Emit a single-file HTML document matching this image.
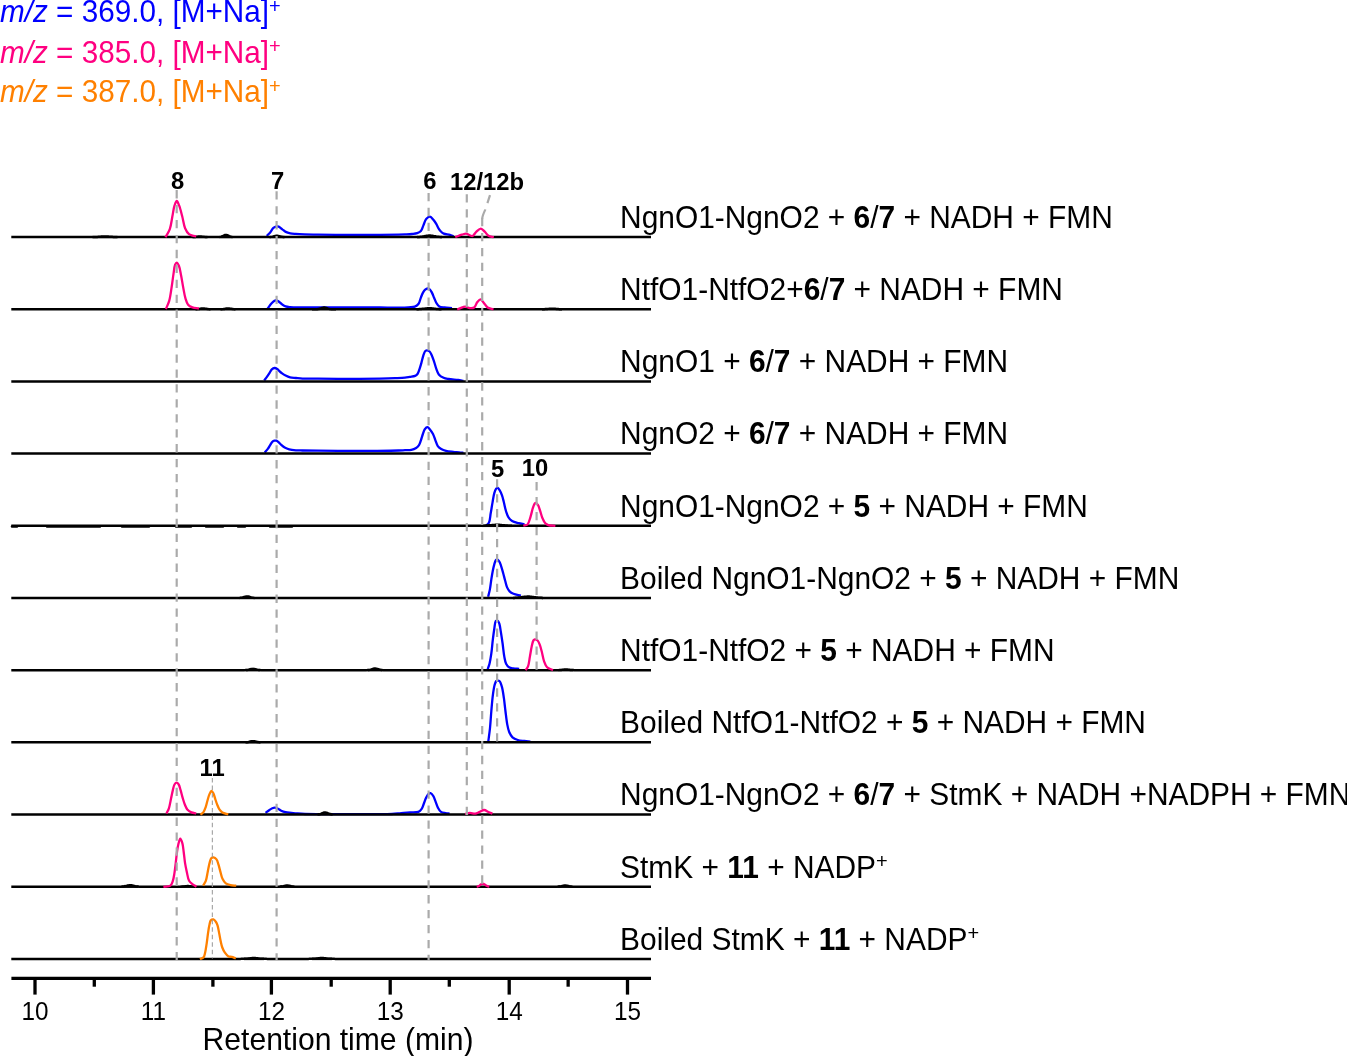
<!DOCTYPE html><html><head><meta charset="utf-8"><style>html,body{margin:0;padding:0;background:#fff;}body{width:1347px;height:1056px;overflow:hidden;}svg{display:block;will-change:transform;}text{font-family:"Liberation Sans",sans-serif;}</style></head><body>
<svg width="1347" height="1056" viewBox="0 0 1347 1056">
<text transform="translate(0 22.2) scale(1 1.040)" font-size="29.7" fill="#0000ff"><tspan font-style="italic">m/z</tspan> = 369.0, [M+Na]<tspan font-size="20" dy="-9.2">+</tspan></text>
<text transform="translate(0 62.5) scale(1 1.040)" font-size="29.7" fill="#ff0080"><tspan font-style="italic">m/z</tspan> = 385.0, [M+Na]<tspan font-size="20" dy="-9.2">+</tspan></text>
<text transform="translate(0 102.4) scale(1 1.040)" font-size="29.7" fill="#ff8000"><tspan font-style="italic">m/z</tspan> = 387.0, [M+Na]<tspan font-size="20" dy="-9.2">+</tspan></text>
<text transform="translate(177.5 188.9) scale(1 1.040)" font-size="23.8" font-weight="bold" text-anchor="middle" fill="#000">8</text>
<text transform="translate(277.5 188.9) scale(1 1.040)" font-size="23.8" font-weight="bold" text-anchor="middle" fill="#000">7</text>
<text transform="translate(429.9 189.4) scale(1 1.040)" font-size="23.8" font-weight="bold" text-anchor="middle" fill="#000">6</text>
<text transform="translate(487 189.7) scale(1 1.040)" font-size="23.8" font-weight="bold" text-anchor="middle" fill="#000">12/12b</text>
<text transform="translate(497.6 477.4) scale(1 1.040)" font-size="23.8" font-weight="bold" text-anchor="middle" fill="#000">5</text>
<text transform="translate(535 475.5) scale(1 1.040)" font-size="23.8" font-weight="bold" text-anchor="middle" fill="#000">10</text>
<text transform="translate(212.1 775.8) scale(1 1.040)" font-size="23.8" font-weight="bold" text-anchor="middle" fill="#000">11</text>
<path d="M265.6 812.9C266.77 812 267.94 811.01 269.1 810.2C270.17 809.45 271.25 808.63 272.3 808.2C273.18 807.84 274.03 807.56 274.9 807.6C275.8 807.64 276.66 808.06 277.6 808.5C278.74 809.03 279.9 810.09 281.2 810.7C282.56 811.34 284.01 811.85 285.6 812.2C287.38 812.59 289.5 812.6 291.4 812.8C293.23 813 294.81 813.22 296.8 813.4C299.25 813.63 301.52 813.87 305 814C311.07 814.23 321.29 814.08 330 814.1C339.54 814.12 349.84 814.12 360 814.1C370.49 814.08 384.56 814.37 392 814C396 813.8 398.17 813.35 401.2 813.1C404.16 812.85 407.1 812.7 410 812.5C412.83 812.3 416.38 812.74 418.4 811.9C419.81 811.31 420.65 810.38 421.5 809.2C422.53 807.78 423.04 805.59 423.8 803.7C424.6 801.7 425.31 799.23 426.2 797.5C426.91 796.12 427.64 794.7 428.5 794C429.12 793.5 429.83 793.06 430.5 793.2C431.39 793.38 432.43 794.75 433.2 795.9C434.17 797.34 434.74 799.51 435.5 801.4C436.3 803.4 436.91 805.78 437.9 807.6C438.78 809.23 439.66 810.99 441 811.9C442.28 812.77 444.2 812.81 445.7 813.1C447.05 813.36 448.3 813.43 449.6 813.6" fill="none" stroke="#0000ff" stroke-width="2.30" stroke-linejoin="round" stroke-linecap="butt"/>
<path d="M266.7 235.9C267.87 234.73 269.11 233.69 270.2 232.4C271.35 231.04 272.2 228.92 273.4 227.9C274.35 227.1 275.53 226.58 276.5 226.4C277.28 226.26 277.92 226.3 278.7 226.6C279.81 227.03 281.11 228.41 282.3 229.3C283.47 230.18 284.5 231.24 285.8 231.9C287.15 232.59 288.72 232.97 290.3 233.3C291.98 233.65 293.6 233.73 295.6 233.9C298.18 234.12 301.23 234.28 304.5 234.4C308.51 234.54 312.74 234.53 317.9 234.6C324.96 234.69 334.48 234.85 343 234.9C351.84 234.95 360.88 234.95 370 234.9C379.37 234.85 392.36 234.73 398.5 234.6C401.43 234.54 402.79 234.5 405 234.4C407.29 234.3 409.84 234.23 412 234C413.87 233.8 415.66 233.74 417.2 233.2C418.59 232.72 419.91 232.19 420.9 231.1C422.09 229.78 422.55 227.36 423.4 225.4C424.31 223.31 424.91 220.4 426.2 218.9C427.21 217.72 428.71 216.48 429.9 216.6C431.19 216.73 432.51 218.82 433.6 220.1C434.67 221.36 435.57 222.81 436.4 224.2C437.2 225.54 437.72 227.05 438.5 228.3C439.23 229.47 439.99 230.6 440.9 231.5C441.76 232.35 442.58 233.07 443.8 233.6C445.4 234.3 448.14 234.25 449.9 234.8C451.31 235.24 452.37 235.87 453.6 236.4" fill="none" stroke="#0000ff" stroke-width="2.30" stroke-linejoin="round" stroke-linecap="butt"/>
<path d="M267.6 308.6C268.87 306.9 270.12 304.88 271.4 303.5C272.43 302.39 273.56 301.37 274.5 300.8C275.14 300.41 275.66 300.04 276.3 300.1C277.1 300.17 278.01 301.06 278.9 301.7C279.94 302.45 280.97 303.61 282.1 304.4C283.21 305.17 284.31 305.95 285.6 306.4C286.97 306.88 288.22 306.94 290.1 307.1C293.2 307.36 298.14 307.26 302.5 307.3C307.38 307.34 311.91 307.29 318 307.3C326.75 307.31 339.51 307.37 350 307.4C360.16 307.43 371.01 307.46 380 307.5C387.34 307.53 393.84 307.77 400 307.6C405.31 307.45 411.59 307.89 414.8 306.7C416.62 306.02 417.63 305.12 418.6 303.8C419.73 302.27 420.04 299.72 420.8 297.8C421.51 296 422.17 294.04 423 292.6C423.67 291.44 424.37 290.4 425.2 289.7C425.9 289.11 426.73 288.55 427.5 288.5C428.23 288.45 429.04 288.78 429.7 289.3C430.56 289.97 431.22 291.34 431.9 292.6C432.71 294.1 433.35 296.07 434.1 297.8C434.85 299.54 435.46 301.51 436.4 303C437.23 304.32 438.04 305.65 439.3 306.4C440.68 307.22 442.6 307.21 444.5 307.5C446.76 307.84 449.5 307.97 452 308.2" fill="none" stroke="#0000ff" stroke-width="2.30" stroke-linejoin="round" stroke-linecap="butt"/>
<path d="M264.2 380.5C265.1 379.3 266.02 378.14 266.9 376.9C267.82 375.61 268.76 374.2 269.6 372.9C270.38 371.7 270.9 370.23 271.8 369.4C272.57 368.69 273.58 368.07 274.5 368C275.39 367.93 276.4 368.4 277.2 368.9C278.04 369.42 278.61 370.37 279.4 371.1C280.24 371.88 281.11 372.68 282.1 373.4C283.17 374.18 284.33 374.95 285.6 375.6C286.98 376.3 288.47 377 290.1 377.4C291.88 377.84 293.9 377.81 295.9 378C298.03 378.21 299.83 378.47 302.5 378.6C306.58 378.8 311.91 378.66 318 378.7C326.75 378.76 339.51 378.92 350 378.9C360.16 378.88 371.72 378.75 380 378.6C385.86 378.49 390.51 378.37 395 378.2C398.67 378.06 402.28 377.99 405 377.7C406.9 377.5 408.16 377.19 409.8 376.9C411.52 376.59 413.74 376.52 415.1 375.9C416.13 375.43 416.83 374.9 417.5 374C418.39 372.82 418.88 370.84 419.5 369.1C420.19 367.17 420.79 365.06 421.4 362.9C422.06 360.57 422.57 357.73 423.3 355.6C423.9 353.86 424.43 351.82 425.3 351C425.85 350.48 426.54 350.26 427.2 350.3C427.96 350.34 428.92 350.87 429.6 351.5C430.4 352.24 430.88 353.41 431.5 354.7C432.36 356.49 433.21 359.08 434 361.4C434.84 363.87 435.52 366.8 436.4 369.1C437.14 371.06 437.61 372.95 438.8 374.4C440 375.86 441.92 377.03 443.6 377.8C445.14 378.51 446.51 378.67 448.4 379C451.06 379.47 455.34 379.65 458.1 380C460.17 380.26 461.7 380.53 463.5 380.8" fill="none" stroke="#0000ff" stroke-width="2.30" stroke-linejoin="round" stroke-linecap="butt"/>
<path d="M264.7 452.5C265.73 451.3 266.89 450.13 267.8 448.9C268.64 447.76 269.26 446.57 270 445.4C270.76 444.21 271.42 442.59 272.3 441.8C272.97 441.2 273.78 440.87 274.5 440.7C275.11 440.56 275.7 440.51 276.3 440.7C277.03 440.93 277.76 441.59 278.5 442.2C279.39 442.94 280.21 444.03 281.2 444.9C282.26 445.84 283.4 446.86 284.7 447.6C286.06 448.38 287.52 448.96 289.2 449.4C291.18 449.92 293.67 450.12 295.9 450.3C298.1 450.48 299.84 450.44 302.5 450.5C306.58 450.59 312.12 450.64 318 450.7C325.76 450.78 335.76 450.88 345 450.9C354.74 450.92 365.61 450.88 375 450.8C383.31 450.73 393.1 450.66 398.5 450.5C401.34 450.42 402.85 450.3 405 450.2C407.12 450.1 409.37 450.32 411.3 449.9C413.04 449.52 414.77 448.87 416.1 448C417.28 447.22 418.22 446.28 419 445.1C419.87 443.77 420.29 442.02 420.9 440.3C421.59 438.35 422.21 435.95 422.9 434C423.51 432.28 423.91 430.38 424.8 429.2C425.51 428.26 426.54 427.16 427.4 427.2C428.31 427.24 429.24 428.7 430.1 429.7C431.12 430.89 432.16 432.38 433 434C433.96 435.85 434.59 438.25 435.4 440.3C436.19 442.28 436.71 444.59 437.8 446.1C438.72 447.37 439.9 448.22 441.2 449C442.6 449.84 444.2 450.43 446 450.9C448.15 451.46 451 451.64 453.3 451.9C455.34 452.13 457.3 452.22 459.1 452.4C460.67 452.56 462.03 452.73 463.5 452.9" fill="none" stroke="#0000ff" stroke-width="2.30" stroke-linejoin="round" stroke-linecap="butt"/>
<path d="M485.9 525.7C486.9 524.73 488.14 524.21 488.9 522.8C490.06 520.66 490.12 516.56 490.7 513.3C491.32 509.84 491.88 506.06 492.5 502.6C493.08 499.34 493.56 495.6 494.3 493.1C494.8 491.39 495.31 489.82 496 488.9C496.45 488.3 496.98 487.65 497.5 487.7C498.17 487.76 498.95 489.08 499.6 490.1C500.48 491.47 501.32 493.51 502 495.4C502.74 497.45 503.18 499.6 503.8 502C504.54 504.87 505.21 508.74 506.1 511.5C506.82 513.73 507.41 515.76 508.5 517.4C509.47 518.86 510.59 520.08 512.1 521C513.85 522.07 516.47 522.54 518.6 523.1C520.6 523.62 522.53 523.9 524.5 524.3" fill="none" stroke="#0000ff" stroke-width="2.30" stroke-linejoin="round" stroke-linecap="butt"/>
<path d="M488.1 596.8C488.7 594.33 489.39 592.05 489.9 589.4C490.48 586.38 490.8 582.78 491.3 579.6C491.77 576.56 492.25 573.41 492.8 570.7C493.27 568.38 493.73 566.17 494.3 564.3C494.76 562.79 495.15 561.11 495.8 560.3C496.21 559.8 496.71 559.35 497.2 559.4C497.83 559.46 498.61 560.43 499.2 561.3C500.02 562.51 500.57 564.48 501.2 566.3C501.92 568.4 502.56 570.86 503.2 573.2C503.86 575.59 504.44 578.11 505.1 580.5C505.74 582.84 506.23 585.46 507.1 587.4C507.8 588.97 508.52 590.33 509.6 591.4C510.66 592.45 511.93 593.15 513.5 593.8C515.52 594.64 518.43 595 520.9 595.6" fill="none" stroke="#0000ff" stroke-width="2.30" stroke-linejoin="round" stroke-linecap="butt"/>
<path d="M487.7 669.2C488.3 667.37 488.96 665.83 489.5 663.7C490.21 660.86 490.78 657.23 491.3 653.6C491.9 649.39 492.27 644.23 492.8 639.9C493.28 635.98 493.76 632.04 494.3 628.7C494.74 625.97 494.88 622.42 495.7 621.3C496.06 620.8 496.57 620.61 497 620.6C497.41 620.59 497.85 620.84 498.2 621.2C498.71 621.73 499.04 622.67 499.4 623.8C499.99 625.68 500.32 628.72 500.8 631.6C501.39 635.15 502.03 639.43 502.6 643.5C503.2 647.76 503.6 652.91 504.3 656.6C504.82 659.34 505.14 661.81 506.1 663.7C506.87 665.21 507.87 666.52 509.1 667.3C510.29 668.05 511.77 668.15 513.3 668.4C515.09 668.69 517.23 668.67 519.2 668.8" fill="none" stroke="#0000ff" stroke-width="2.30" stroke-linejoin="round" stroke-linecap="butt"/>
<path d="M488.3 741.5C488.87 737 489.52 732.73 490 728C490.53 722.78 490.82 717.01 491.3 711.5C491.78 705.97 492.26 699.71 492.9 694.9C493.4 691.17 493.86 687.53 494.6 685C495.09 683.33 495.53 681.65 496.3 681C496.79 680.59 497.45 680.55 498 680.6C498.55 680.65 499.11 680.8 499.6 681.3C500.51 682.23 501.25 684.67 501.9 686.9C502.79 689.97 503.32 694.27 503.9 698.2C504.53 702.44 504.94 707.13 505.5 711.5C506.04 715.76 506.49 720.41 507.2 724.1C507.77 727.06 508.22 729.69 509.2 732C510.06 734.02 511.04 735.96 512.5 737.3C513.92 738.61 515.88 739.38 517.8 740C519.83 740.65 522.25 740.73 524.4 741C526.44 741.26 528.4 741.4 530.4 741.6" fill="none" stroke="#0000ff" stroke-width="2.30" stroke-linejoin="round" stroke-linecap="butt"/>
<path d="M11.3 237.08 L12.3 237.08 L13.3 237.08 L14.3 237.08 L15.3 237.08 L16.3 237.08 L17.3 237.08 L18.3 237.08 L19.3 237.08 L20.3 237.08 L21.3 237.08 L22.3 237.08 L23.3 237.08 L24.3 237.08 L25.3 237.08 L26.3 237.08 L27.3 237.08 L28.3 237.08 L29.3 237.08 L30.3 237.08 L31.3 237.08 L32.3 237.08 L33.3 237.08 L34.3 237.08 L35.3 237.08 L36.3 237.08 L37.3 237.08 L38.3 237.08 L39.3 237.08 L40.3 237.08 L41.3 237.08 L42.3 237.08 L43.3 237.08 L44.3 237.08 L45.3 237.08 L46.3 237.08 L47.3 237.08 L48.3 237.08 L49.3 237.08 L50.3 237.08 L51.3 237.08 L52.3 237.08 L53.3 237.08 L54.3 237.08 L55.3 237.08 L56.3 237.08 L57.3 237.08 L58.3 237.08 L59.3 237.08 L60.3 237.08 L61.3 237.08 L62.3 237.08 L63.3 237.08 L64.3 237.08 L65.3 237.08 L66.3 237.08 L67.3 237.08 L68.3 237.08 L69.3 237.08 L70.3 237.08 L71.3 237.08 L72.3 237.08 L73.3 237.08 L74.3 237.08 L75.3 237.08 L76.3 237.08 L77.3 237.08 L78.3 237.08 L79.3 237.08 L80.3 237.08 L81.3 237.08 L82.3 237.08 L83.3 237.08 L84.3 237.08 L85.3 237.08 L86.3 237.08 L87.3 237.08 L88.3 237.08 L89.3 237.08 L90.3 237.07 L91.3 237.07 L92.3 237.06 L93.3 237.04 L94.3 237.02 L95.3 236.99 L96.3 236.95 L97.3 236.9 L98.3 236.84 L99.3 236.77 L100.3 236.69 L101.3 236.62 L102.3 236.56 L103.3 236.51 L104.3 236.49 L105.3 236.48 L106.3 236.5 L107.3 236.54 L108.3 236.6 L109.3 236.67 L110.3 236.74 L111.3 236.81 L112.3 236.87 L113.3 236.93 L114.3 236.97 L115.3 237.01 L116.3 237.03 L117.3 237.05 L118.3 237.06 L119.3 237.07 L120.3 237.07 L121.3 237.08 L122.3 237.08 L123.3 237.08 L124.3 237.08 L125.3 237.08 L126.3 237.08 L127.3 237.08 L128.3 237.08 L129.3 237.08 L130.3 237.08 L131.3 237.08 L132.3 237.08 L133.3 237.08 L134.3 237.08 L135.3 237.08 L136.3 237.08 L137.3 237.08 L138.3 237.08 L139.3 237.08 L140.3 237.08 L141.3 237.08 L142.3 237.08 L143.3 237.08 L144.3 237.08 L145.3 237.08 L146.3 237.08 L147.3 237.08 L148.3 237.08 L149.3 237.08 L150.3 237.08 L151.3 237.08 L152.3 237.08 L153.3 237.08 L154.3 237.08 L155.3 237.08 L156.3 237.08 L157.3 237.08 L158.3 237.08 L159.3 237.08 L160.3 237.08 L161.3 237.08 L162.3 237.08 L163.3 237.08 L164.3 237.08 L165.3 237.08 L166.3 237.08 L167.3 237.08 L168.3 237.08 L169.3 237.08 L170.3 237.08 L171.3 237.08 L172.3 237.08 L173.3 237.08 L174.3 237.08 L175.3 237.08 L176.3 237.08 L177.3 237.08 L178.3 237.08 L179.3 237.08 L180.3 237.08 L181.3 237.08 L182.3 237.08 L183.3 237.08 L184.3 237.08 L185.3 237.08 L186.3 237.08 L187.3 237.08 L188.3 237.08 L189.3 237.08 L190.3 237.08 L191.3 237.07 L192.3 237.06 L193.3 237.03 L194.3 236.98 L195.3 236.9 L196.3 236.8 L197.3 236.68 L198.3 236.57 L199.3 236.5 L200.3 236.48 L201.3 236.53 L202.3 236.63 L203.3 236.75 L204.3 236.87 L205.3 236.95 L206.3 237.01 L207.3 237.05 L208.3 237.07 L209.3 237.08 L210.3 237.08 L211.3 237.08 L212.3 237.08 L213.3 237.08 L214.3 237.08 L215.3 237.08 L216.3 237.08 L217.3 237.07 L218.3 237.05 L219.3 237 L220.3 236.88 L221.3 236.65 L222.3 236.28 L223.3 235.8 L224.3 235.3 L225.3 234.96 L226.3 234.89 L227.3 235.14 L228.3 235.59 L229.3 236.1 L230.3 236.52 L231.3 236.8 L232.3 236.96 L233.3 237.04 L234.3 237.07 L235.3 237.08 L236.3 237.08 L237.3 237.08 L238.3 237.08 L239.3 237.08 L240.3 237.08 L241.3 237.08 L242.3 237.08 L243.3 237.08 L244.3 237.08 L245.3 237.08 L246.3 237.08 L247.3 237.08 L248.3 237.08 L249.3 237.08 L250.3 237.08 L251.3 237.08 L252.3 237.08 L253.3 237.08 L254.3 237.08 L255.3 237.08 L256.3 237.08 L257.3 237.08 L258.3 237.08 L259.3 237.08 L260.3 237.08 L261.3 237.08 L262.3 237.08 L263.3 237.08 L264.3 237.08 L265.3 237.08 L266.3 237.08 L267.3 237.07 L268.3 237.06 L269.3 237.03 L270.3 236.97 L271.3 236.87 L272.3 236.7 L273.3 236.47 L274.3 236.21 L275.3 235.97 L276.3 235.81 L277.3 235.79 L278.3 235.9 L279.3 236.11 L280.3 236.37 L281.3 236.61 L282.3 236.81 L283.3 236.94 L284.3 237.01 L285.3 237.05 L286.3 237.07 L287.3 237.08 L288.3 237.08 L289.3 237.08 L290.3 237.08 L291.3 237.08 L292.3 237.08 L293.3 237.08 L294.3 237.08 L295.3 237.08 L296.3 237.08 L297.3 237.08 L298.3 237.08 L299.3 237.08 L300.3 237.08 L301.3 237.08 L302.3 237.08 L303.3 237.08 L304.3 237.08 L305.3 237.08 L306.3 237.08 L307.3 237.08 L308.3 237.08 L309.3 237.08 L310.3 237.08 L311.3 237.08 L312.3 237.08 L313.3 237.08 L314.3 237.08 L315.3 237.08 L316.3 237.08 L317.3 237.08 L318.3 237.08 L319.3 237.08 L320.3 237.08 L321.3 237.08 L322.3 237.08 L323.3 237.08 L324.3 237.08 L325.3 237.08 L326.3 237.08 L327.3 237.08 L328.3 237.08 L329.3 237.08 L330.3 237.08 L331.3 237.08 L332.3 237.08 L333.3 237.08 L334.3 237.08 L335.3 237.08 L336.3 237.08 L337.3 237.08 L338.3 237.08 L339.3 237.08 L340.3 237.08 L341.3 237.08 L342.3 237.08 L343.3 237.08 L344.3 237.08 L345.3 237.08 L346.3 237.08 L347.3 237.08 L348.3 237.08 L349.3 237.08 L350.3 237.08 L351.3 237.08 L352.3 237.08 L353.3 237.08 L354.3 237.08 L355.3 237.08 L356.3 237.08 L357.3 237.08 L358.3 237.08 L359.3 237.08 L360.3 237.08 L361.3 237.08 L362.3 237.08 L363.3 237.08 L364.3 237.08 L365.3 237.08 L366.3 237.08 L367.3 237.08 L368.3 237.08 L369.3 237.08 L370.3 237.08 L371.3 237.08 L372.3 237.08 L373.3 237.08 L374.3 237.08 L375.3 237.08 L376.3 237.08 L377.3 237.08 L378.3 237.08 L379.3 237.08 L380.3 237.08 L381.3 237.08 L382.3 237.08 L383.3 237.08 L384.3 237.08 L385.3 237.08 L386.3 237.08 L387.3 237.08 L388.3 237.08 L389.3 237.08 L390.3 237.08 L391.3 237.08 L392.3 237.08 L393.3 237.08 L394.3 237.08 L395.3 237.08 L396.3 237.08 L397.3 237.08 L398.3 237.08 L399.3 237.08 L400.3 237.08 L401.3 237.08 L402.3 237.08 L403.3 237.08 L404.3 237.08 L405.3 237.08 L406.3 237.08 L407.3 237.08 L408.3 237.08 L409.3 237.08 L410.3 237.08 L411.3 237.08 L412.3 237.08 L413.3 237.07 L414.3 237.07 L415.3 237.05 L416.3 237.03 L417.3 237 L418.3 236.96 L419.3 236.89 L420.3 236.8 L421.3 236.69 L422.3 236.55 L423.3 236.38 L424.3 236.21 L425.3 236.03 L426.3 235.86 L427.3 235.72 L428.3 235.62 L429.3 235.58 L430.3 235.6 L431.3 235.67 L432.3 235.8 L433.3 235.96 L434.3 236.13 L435.3 236.31 L436.3 236.49 L437.3 236.64 L438.3 236.76 L439.3 236.86 L440.3 236.93 L441.3 236.99 L442.3 237.02 L443.3 237.05 L444.3 237.06 L445.3 237.07 L446.3 237.07 L447.3 237.08 L448.3 237.08 L449.3 237.08 L450.3 237.08 L451.3 237.08 L452.3 237.08 L453.3 237.08 L454.3 237.08 L455.3 237.08 L456.3 237.08 L457.3 237.08 L458.3 237.08 L459.3 237.08 L460.3 237.08 L461.3 237.08 L462.3 237.08 L463.3 237.08 L464.3 237.08 L465.3 237.08 L466.3 237.08 L467.3 237.08 L468.3 237.08 L469.3 237.08 L470.3 237.08 L471.3 237.08 L472.3 237.08 L473.3 237.08 L474.3 237.08 L475.3 237.08 L476.3 237.08 L477.3 237.08 L478.3 237.08 L479.3 237.08 L480.3 237.08 L481.3 237.08 L482.3 237.08 L483.3 237.08 L484.3 237.08 L485.3 237.08 L486.3 237.08 L487.3 237.08 L488.3 237.08 L489.3 237.08 L490.3 237.08 L491.3 237.08 L492.3 237.08 L493.3 237.08 L494.3 237.08 L495.3 237.08 L496.3 237.08 L497.3 237.08 L498.3 237.08 L499.3 237.08 L500.3 237.08 L501.3 237.08 L502.3 237.08 L503.3 237.08 L504.3 237.08 L505.3 237.08 L506.3 237.08 L507.3 237.08 L508.3 237.08 L509.3 237.08 L510.3 237.08 L511.3 237.08 L512.3 237.08 L513.3 237.08 L514.3 237.08 L515.3 237.08 L516.3 237.08 L517.3 237.08 L518.3 237.08 L519.3 237.08 L520.3 237.08 L521.3 237.08 L522.3 237.08 L523.3 237.08 L524.3 237.08 L525.3 237.08 L526.3 237.08 L527.3 237.08 L528.3 237.08 L529.3 237.08 L530.3 237.08 L531.3 237.08 L532.3 237.08 L533.3 237.08 L534.3 237.08 L535.3 237.08 L536.3 237.08 L537.3 237.08 L538.3 237.08 L539.3 237.08 L540.3 237.08 L541.3 237.08 L542.3 237.08 L543.3 237.08 L544.3 237.08 L545.3 237.08 L546.3 237.08 L547.3 237.08 L548.3 237.08 L549.3 237.08 L550.3 237.08 L551.3 237.08 L552.3 237.08 L553.3 237.08 L554.3 237.08 L555.3 237.08 L556.3 237.08 L557.3 237.08 L558.3 237.08 L559.3 237.08 L560.3 237.08 L561.3 237.08 L562.3 237.08 L563.3 237.08 L564.3 237.08 L565.3 237.08 L566.3 237.08 L567.3 237.08 L568.3 237.08 L569.3 237.08 L570.3 237.08 L571.3 237.08 L572.3 237.08 L573.3 237.08 L574.3 237.08 L575.3 237.08 L576.3 237.08 L577.3 237.08 L578.3 237.08 L579.3 237.08 L580.3 237.08 L581.3 237.08 L582.3 237.08 L583.3 237.08 L584.3 237.08 L585.3 237.08 L586.3 237.08 L587.3 237.08 L588.3 237.08 L589.3 237.08 L590.3 237.08 L591.3 237.08 L592.3 237.08 L593.3 237.08 L594.3 237.08 L595.3 237.08 L596.3 237.08 L597.3 237.08 L598.3 237.08 L599.3 237.08 L600.3 237.08 L601.3 237.08 L602.3 237.08 L603.3 237.08 L604.3 237.08 L605.3 237.08 L606.3 237.08 L607.3 237.08 L608.3 237.08 L609.3 237.08 L610.3 237.08 L611.3 237.08 L612.3 237.08 L613.3 237.08 L614.3 237.08 L615.3 237.08 L616.3 237.08 L617.3 237.08 L618.3 237.08 L619.3 237.08 L620.3 237.08 L621.3 237.08 L622.3 237.08 L623.3 237.08 L624.3 237.08 L625.3 237.08 L626.3 237.08 L627.3 237.08 L628.3 237.08 L629.3 237.08 L630.3 237.08 L631.3 237.08 L632.3 237.08 L633.3 237.08 L634.3 237.08 L635.3 237.08 L636.3 237.08 L637.3 237.08 L638.3 237.08 L639.3 237.08 L640.3 237.08 L641.3 237.08 L642.3 237.08 L643.3 237.08 L644.3 237.08 L645.3 237.08 L646.3 237.08 L647.3 237.08 L648.3 237.08 L649.3 237.08 L650.3 237.08 L651 237.08" fill="none" stroke="#000" stroke-width="2.50" stroke-linejoin="round"/>
<line x1="92.5" y1="237.08" x2="117.5" y2="237.08" stroke="#000" stroke-width="2.50"/>
<line x1="219.5" y1="237.08" x2="232.5" y2="237.08" stroke="#000" stroke-width="2.50"/>
<line x1="269.5" y1="237.08" x2="284.5" y2="237.08" stroke="#000" stroke-width="2.50"/>
<line x1="417" y1="237.08" x2="442" y2="237.08" stroke="#000" stroke-width="2.50"/>
<line x1="192.5" y1="237.08" x2="207.5" y2="237.08" stroke="#000" stroke-width="2.50"/>
<path d="M11.3 309.26 L12.3 309.26 L13.3 309.26 L14.3 309.26 L15.3 309.26 L16.3 309.26 L17.3 309.26 L18.3 309.26 L19.3 309.26 L20.3 309.26 L21.3 309.26 L22.3 309.26 L23.3 309.26 L24.3 309.26 L25.3 309.26 L26.3 309.26 L27.3 309.26 L28.3 309.26 L29.3 309.26 L30.3 309.26 L31.3 309.26 L32.3 309.26 L33.3 309.26 L34.3 309.26 L35.3 309.26 L36.3 309.26 L37.3 309.26 L38.3 309.26 L39.3 309.26 L40.3 309.26 L41.3 309.26 L42.3 309.26 L43.3 309.26 L44.3 309.26 L45.3 309.26 L46.3 309.26 L47.3 309.26 L48.3 309.26 L49.3 309.26 L50.3 309.26 L51.3 309.26 L52.3 309.26 L53.3 309.26 L54.3 309.26 L55.3 309.26 L56.3 309.26 L57.3 309.26 L58.3 309.26 L59.3 309.26 L60.3 309.26 L61.3 309.26 L62.3 309.26 L63.3 309.26 L64.3 309.26 L65.3 309.26 L66.3 309.26 L67.3 309.26 L68.3 309.26 L69.3 309.26 L70.3 309.26 L71.3 309.26 L72.3 309.26 L73.3 309.26 L74.3 309.26 L75.3 309.26 L76.3 309.26 L77.3 309.26 L78.3 309.26 L79.3 309.26 L80.3 309.26 L81.3 309.26 L82.3 309.26 L83.3 309.26 L84.3 309.26 L85.3 309.26 L86.3 309.26 L87.3 309.26 L88.3 309.26 L89.3 309.26 L90.3 309.26 L91.3 309.26 L92.3 309.26 L93.3 309.26 L94.3 309.26 L95.3 309.26 L96.3 309.26 L97.3 309.26 L98.3 309.26 L99.3 309.26 L100.3 309.26 L101.3 309.26 L102.3 309.26 L103.3 309.26 L104.3 309.26 L105.3 309.26 L106.3 309.26 L107.3 309.26 L108.3 309.26 L109.3 309.26 L110.3 309.26 L111.3 309.26 L112.3 309.26 L113.3 309.26 L114.3 309.26 L115.3 309.26 L116.3 309.26 L117.3 309.26 L118.3 309.26 L119.3 309.26 L120.3 309.26 L121.3 309.26 L122.3 309.26 L123.3 309.26 L124.3 309.26 L125.3 309.26 L126.3 309.26 L127.3 309.26 L128.3 309.26 L129.3 309.26 L130.3 309.26 L131.3 309.26 L132.3 309.26 L133.3 309.26 L134.3 309.26 L135.3 309.26 L136.3 309.26 L137.3 309.26 L138.3 309.26 L139.3 309.26 L140.3 309.26 L141.3 309.26 L142.3 309.26 L143.3 309.26 L144.3 309.26 L145.3 309.26 L146.3 309.26 L147.3 309.26 L148.3 309.26 L149.3 309.26 L150.3 309.26 L151.3 309.26 L152.3 309.26 L153.3 309.26 L154.3 309.26 L155.3 309.26 L156.3 309.26 L157.3 309.26 L158.3 309.26 L159.3 309.26 L160.3 309.26 L161.3 309.26 L162.3 309.26 L163.3 309.26 L164.3 309.26 L165.3 309.26 L166.3 309.26 L167.3 309.26 L168.3 309.26 L169.3 309.26 L170.3 309.26 L171.3 309.26 L172.3 309.26 L173.3 309.26 L174.3 309.26 L175.3 309.26 L176.3 309.26 L177.3 309.26 L178.3 309.26 L179.3 309.26 L180.3 309.26 L181.3 309.26 L182.3 309.26 L183.3 309.26 L184.3 309.26 L185.3 309.26 L186.3 309.26 L187.3 309.26 L188.3 309.26 L189.3 309.26 L190.3 309.26 L191.3 309.26 L192.3 309.26 L193.3 309.26 L194.3 309.25 L195.3 309.23 L196.3 309.19 L197.3 309.13 L198.3 309.03 L199.3 308.89 L200.3 308.73 L201.3 308.58 L202.3 308.48 L203.3 308.46 L204.3 308.53 L205.3 308.66 L206.3 308.82 L207.3 308.97 L208.3 309.09 L209.3 309.17 L210.3 309.22 L211.3 309.24 L212.3 309.25 L213.3 309.26 L214.3 309.26 L215.3 309.26 L216.3 309.26 L217.3 309.26 L218.3 309.26 L219.3 309.25 L220.3 309.23 L221.3 309.19 L222.3 309.13 L223.3 309.03 L224.3 308.89 L225.3 308.73 L226.3 308.58 L227.3 308.48 L228.3 308.46 L229.3 308.53 L230.3 308.66 L231.3 308.82 L232.3 308.97 L233.3 309.09 L234.3 309.17 L235.3 309.22 L236.3 309.24 L237.3 309.25 L238.3 309.26 L239.3 309.26 L240.3 309.26 L241.3 309.26 L242.3 309.26 L243.3 309.26 L244.3 309.26 L245.3 309.26 L246.3 309.26 L247.3 309.26 L248.3 309.26 L249.3 309.26 L250.3 309.26 L251.3 309.26 L252.3 309.26 L253.3 309.26 L254.3 309.26 L255.3 309.26 L256.3 309.26 L257.3 309.26 L258.3 309.26 L259.3 309.26 L260.3 309.26 L261.3 309.26 L262.3 309.26 L263.3 309.26 L264.3 309.26 L265.3 309.26 L266.3 309.26 L267.3 309.26 L268.3 309.26 L269.3 309.26 L270.3 309.26 L271.3 309.26 L272.3 309.26 L273.3 309.26 L274.3 309.26 L275.3 309.26 L276.3 309.26 L277.3 309.26 L278.3 309.26 L279.3 309.26 L280.3 309.26 L281.3 309.26 L282.3 309.26 L283.3 309.26 L284.3 309.26 L285.3 309.26 L286.3 309.26 L287.3 309.26 L288.3 309.26 L289.3 309.26 L290.3 309.26 L291.3 309.26 L292.3 309.26 L293.3 309.26 L294.3 309.26 L295.3 309.26 L296.3 309.26 L297.3 309.26 L298.3 309.26 L299.3 309.26 L300.3 309.26 L301.3 309.26 L302.3 309.26 L303.3 309.26 L304.3 309.26 L305.3 309.26 L306.3 309.26 L307.3 309.26 L308.3 309.26 L309.3 309.26 L310.3 309.26 L311.3 309.26 L312.3 309.26 L313.3 309.26 L314.3 309.26 L315.3 309.26 L316.3 309.26 L317.3 309.26 L318.3 309.26 L319.3 309.26 L320.3 309.26 L321.3 309.26 L322.3 309.26 L323.3 309.26 L324.3 309.26 L325.3 309.26 L326.3 309.26 L327.3 309.26 L328.3 309.26 L329.3 309.26 L330.3 309.26 L331.3 309.26 L332.3 309.26 L333.3 309.26 L334.3 309.26 L335.3 309.26 L336.3 309.26 L337.3 309.26 L338.3 309.26 L339.3 309.26 L340.3 309.26 L341.3 309.26 L342.3 309.26 L343.3 309.26 L344.3 309.26 L345.3 309.26 L346.3 309.26 L347.3 309.26 L348.3 309.26 L349.3 309.26 L350.3 309.26 L351.3 309.26 L352.3 309.26 L353.3 309.26 L354.3 309.26 L355.3 309.26 L356.3 309.26 L357.3 309.26 L358.3 309.26 L359.3 309.26 L360.3 309.26 L361.3 309.26 L362.3 309.26 L363.3 309.26 L364.3 309.26 L365.3 309.26 L366.3 309.26 L367.3 309.26 L368.3 309.26 L369.3 309.26 L370.3 309.26 L371.3 309.26 L372.3 309.26 L373.3 309.26 L374.3 309.26 L375.3 309.26 L376.3 309.26 L377.3 309.26 L378.3 309.26 L379.3 309.26 L380.3 309.26 L381.3 309.26 L382.3 309.26 L383.3 309.26 L384.3 309.26 L385.3 309.26 L386.3 309.26 L387.3 309.26 L388.3 309.26 L389.3 309.26 L390.3 309.26 L391.3 309.26 L392.3 309.26 L393.3 309.26 L394.3 309.26 L395.3 309.26 L396.3 309.26 L397.3 309.26 L398.3 309.26 L399.3 309.26 L400.3 309.26 L401.3 309.26 L402.3 309.26 L403.3 309.26 L404.3 309.26 L405.3 309.26 L406.3 309.26 L407.3 309.26 L408.3 309.26 L409.3 309.26 L410.3 309.26 L411.3 309.26 L412.3 309.26 L413.3 309.25 L414.3 309.25 L415.3 309.24 L416.3 309.22 L417.3 309.2 L418.3 309.16 L419.3 309.11 L420.3 309.04 L421.3 308.95 L422.3 308.85 L423.3 308.74 L424.3 308.62 L425.3 308.5 L426.3 308.4 L427.3 308.32 L428.3 308.27 L429.3 308.26 L430.3 308.29 L431.3 308.36 L432.3 308.46 L433.3 308.57 L434.3 308.69 L435.3 308.81 L436.3 308.92 L437.3 309.01 L438.3 309.08 L439.3 309.14 L440.3 309.18 L441.3 309.21 L442.3 309.23 L443.3 309.24 L444.3 309.25 L445.3 309.26 L446.3 309.26 L447.3 309.26 L448.3 309.26 L449.3 309.26 L450.3 309.26 L451.3 309.26 L452.3 309.26 L453.3 309.26 L454.3 309.26 L455.3 309.26 L456.3 309.26 L457.3 309.26 L458.3 309.26 L459.3 309.26 L460.3 309.26 L461.3 309.26 L462.3 309.26 L463.3 309.26 L464.3 309.26 L465.3 309.26 L466.3 309.26 L467.3 309.26 L468.3 309.26 L469.3 309.26 L470.3 309.26 L471.3 309.26 L472.3 309.26 L473.3 309.26 L474.3 309.26 L475.3 309.26 L476.3 309.26 L477.3 309.26 L478.3 309.26 L479.3 309.26 L480.3 309.26 L481.3 309.26 L482.3 309.26 L483.3 309.26 L484.3 309.26 L485.3 309.26 L486.3 309.26 L487.3 309.26 L488.3 309.26 L489.3 309.26 L490.3 309.26 L491.3 309.26 L492.3 309.26 L493.3 309.26 L494.3 309.26 L495.3 309.26 L496.3 309.26 L497.3 309.26 L498.3 309.26 L499.3 309.26 L500.3 309.26 L501.3 309.26 L502.3 309.26 L503.3 309.26 L504.3 309.26 L505.3 309.26 L506.3 309.26 L507.3 309.26 L508.3 309.26 L509.3 309.26 L510.3 309.26 L511.3 309.26 L512.3 309.26 L513.3 309.26 L514.3 309.26 L515.3 309.26 L516.3 309.26 L517.3 309.26 L518.3 309.26 L519.3 309.26 L520.3 309.26 L521.3 309.26 L522.3 309.26 L523.3 309.26 L524.3 309.26 L525.3 309.26 L526.3 309.26 L527.3 309.26 L528.3 309.26 L529.3 309.26 L530.3 309.26 L531.3 309.26 L532.3 309.26 L533.3 309.26 L534.3 309.26 L535.3 309.26 L536.3 309.26 L537.3 309.26 L538.3 309.26 L539.3 309.26 L540.3 309.25 L541.3 309.24 L542.3 309.23 L543.3 309.2 L544.3 309.17 L545.3 309.11 L546.3 309.04 L547.3 308.96 L548.3 308.87 L549.3 308.78 L550.3 308.71 L551.3 308.67 L552.3 308.66 L553.3 308.69 L554.3 308.75 L555.3 308.83 L556.3 308.92 L557.3 309.01 L558.3 309.09 L559.3 309.15 L560.3 309.19 L561.3 309.22 L562.3 309.24 L563.3 309.25 L564.3 309.25 L565.3 309.26 L566.3 309.26 L567.3 309.26 L568.3 309.26 L569.3 309.26 L570.3 309.26 L571.3 309.26 L572.3 309.26 L573.3 309.26 L574.3 309.26 L575.3 309.26 L576.3 309.26 L577.3 309.26 L578.3 309.26 L579.3 309.26 L580.3 309.26 L581.3 309.26 L582.3 309.26 L583.3 309.26 L584.3 309.26 L585.3 309.26 L586.3 309.26 L587.3 309.26 L588.3 309.26 L589.3 309.26 L590.3 309.26 L591.3 309.26 L592.3 309.26 L593.3 309.26 L594.3 309.26 L595.3 309.26 L596.3 309.26 L597.3 309.26 L598.3 309.26 L599.3 309.26 L600.3 309.26 L601.3 309.26 L602.3 309.26 L603.3 309.26 L604.3 309.26 L605.3 309.26 L606.3 309.26 L607.3 309.26 L608.3 309.26 L609.3 309.26 L610.3 309.26 L611.3 309.26 L612.3 309.26 L613.3 309.26 L614.3 309.26 L615.3 309.26 L616.3 309.26 L617.3 309.26 L618.3 309.26 L619.3 309.26 L620.3 309.26 L621.3 309.26 L622.3 309.26 L623.3 309.26 L624.3 309.26 L625.3 309.26 L626.3 309.26 L627.3 309.26 L628.3 309.26 L629.3 309.26 L630.3 309.26 L631.3 309.26 L632.3 309.26 L633.3 309.26 L634.3 309.26 L635.3 309.26 L636.3 309.26 L637.3 309.26 L638.3 309.26 L639.3 309.26 L640.3 309.26 L641.3 309.26 L642.3 309.26 L643.3 309.26 L644.3 309.26 L645.3 309.26 L646.3 309.26 L647.3 309.26 L648.3 309.26 L649.3 309.26 L650.3 309.26 L651 309.26" fill="none" stroke="#000" stroke-width="2.50" stroke-linejoin="round"/>
<line x1="195.5" y1="309.26" x2="210.5" y2="309.26" stroke="#000" stroke-width="2.50"/>
<line x1="220.5" y1="309.26" x2="235.5" y2="309.26" stroke="#000" stroke-width="2.50"/>
<line x1="416.5" y1="309.26" x2="441.5" y2="309.26" stroke="#000" stroke-width="2.50"/>
<line x1="542" y1="309.26" x2="562" y2="309.26" stroke="#000" stroke-width="2.50"/>
<path d="M11.3 381.44 L12.3 381.44 L13.3 381.44 L14.3 381.44 L15.3 381.44 L16.3 381.44 L17.3 381.44 L18.3 381.44 L19.3 381.44 L20.3 381.44 L21.3 381.44 L22.3 381.44 L23.3 381.44 L24.3 381.44 L25.3 381.44 L26.3 381.44 L27.3 381.44 L28.3 381.44 L29.3 381.44 L30.3 381.44 L31.3 381.44 L32.3 381.44 L33.3 381.44 L34.3 381.44 L35.3 381.44 L36.3 381.44 L37.3 381.44 L38.3 381.44 L39.3 381.44 L40.3 381.44 L41.3 381.44 L42.3 381.44 L43.3 381.44 L44.3 381.44 L45.3 381.44 L46.3 381.44 L47.3 381.44 L48.3 381.44 L49.3 381.44 L50.3 381.44 L51.3 381.44 L52.3 381.44 L53.3 381.44 L54.3 381.44 L55.3 381.44 L56.3 381.44 L57.3 381.44 L58.3 381.44 L59.3 381.44 L60.3 381.44 L61.3 381.44 L62.3 381.44 L63.3 381.44 L64.3 381.44 L65.3 381.44 L66.3 381.44 L67.3 381.44 L68.3 381.44 L69.3 381.44 L70.3 381.44 L71.3 381.44 L72.3 381.44 L73.3 381.44 L74.3 381.44 L75.3 381.44 L76.3 381.44 L77.3 381.44 L78.3 381.44 L79.3 381.44 L80.3 381.44 L81.3 381.44 L82.3 381.44 L83.3 381.44 L84.3 381.44 L85.3 381.44 L86.3 381.44 L87.3 381.44 L88.3 381.44 L89.3 381.44 L90.3 381.44 L91.3 381.44 L92.3 381.44 L93.3 381.44 L94.3 381.44 L95.3 381.44 L96.3 381.44 L97.3 381.44 L98.3 381.44 L99.3 381.44 L100.3 381.44 L101.3 381.44 L102.3 381.44 L103.3 381.44 L104.3 381.44 L105.3 381.44 L106.3 381.44 L107.3 381.44 L108.3 381.44 L109.3 381.44 L110.3 381.44 L111.3 381.44 L112.3 381.44 L113.3 381.44 L114.3 381.44 L115.3 381.44 L116.3 381.44 L117.3 381.44 L118.3 381.44 L119.3 381.44 L120.3 381.44 L121.3 381.44 L122.3 381.44 L123.3 381.44 L124.3 381.44 L125.3 381.44 L126.3 381.44 L127.3 381.44 L128.3 381.44 L129.3 381.44 L130.3 381.44 L131.3 381.44 L132.3 381.44 L133.3 381.44 L134.3 381.44 L135.3 381.44 L136.3 381.44 L137.3 381.44 L138.3 381.44 L139.3 381.44 L140.3 381.44 L141.3 381.44 L142.3 381.44 L143.3 381.44 L144.3 381.44 L145.3 381.44 L146.3 381.44 L147.3 381.44 L148.3 381.44 L149.3 381.44 L150.3 381.44 L151.3 381.44 L152.3 381.44 L153.3 381.44 L154.3 381.44 L155.3 381.44 L156.3 381.44 L157.3 381.44 L158.3 381.44 L159.3 381.44 L160.3 381.44 L161.3 381.44 L162.3 381.44 L163.3 381.44 L164.3 381.44 L165.3 381.44 L166.3 381.44 L167.3 381.44 L168.3 381.44 L169.3 381.44 L170.3 381.44 L171.3 381.44 L172.3 381.44 L173.3 381.44 L174.3 381.44 L175.3 381.44 L176.3 381.44 L177.3 381.44 L178.3 381.44 L179.3 381.44 L180.3 381.44 L181.3 381.44 L182.3 381.44 L183.3 381.44 L184.3 381.44 L185.3 381.44 L186.3 381.44 L187.3 381.44 L188.3 381.44 L189.3 381.44 L190.3 381.44 L191.3 381.44 L192.3 381.44 L193.3 381.44 L194.3 381.44 L195.3 381.44 L196.3 381.44 L197.3 381.44 L198.3 381.44 L199.3 381.44 L200.3 381.44 L201.3 381.44 L202.3 381.44 L203.3 381.44 L204.3 381.44 L205.3 381.44 L206.3 381.44 L207.3 381.44 L208.3 381.44 L209.3 381.44 L210.3 381.44 L211.3 381.44 L212.3 381.44 L213.3 381.44 L214.3 381.44 L215.3 381.44 L216.3 381.44 L217.3 381.44 L218.3 381.44 L219.3 381.44 L220.3 381.44 L221.3 381.44 L222.3 381.44 L223.3 381.44 L224.3 381.44 L225.3 381.44 L226.3 381.44 L227.3 381.44 L228.3 381.44 L229.3 381.44 L230.3 381.44 L231.3 381.44 L232.3 381.44 L233.3 381.44 L234.3 381.44 L235.3 381.44 L236.3 381.44 L237.3 381.44 L238.3 381.44 L239.3 381.44 L240.3 381.44 L241.3 381.44 L242.3 381.44 L243.3 381.44 L244.3 381.44 L245.3 381.44 L246.3 381.44 L247.3 381.44 L248.3 381.44 L249.3 381.44 L250.3 381.44 L251.3 381.44 L252.3 381.44 L253.3 381.44 L254.3 381.44 L255.3 381.44 L256.3 381.44 L257.3 381.44 L258.3 381.44 L259.3 381.44 L260.3 381.44 L261.3 381.44 L262.3 381.44 L263.3 381.44 L264.3 381.44 L265.3 381.44 L266.3 381.44 L267.3 381.44 L268.3 381.44 L269.3 381.44 L270.3 381.44 L271.3 381.44 L272.3 381.44 L273.3 381.44 L274.3 381.44 L275.3 381.44 L276.3 381.44 L277.3 381.44 L278.3 381.44 L279.3 381.44 L280.3 381.44 L281.3 381.44 L282.3 381.44 L283.3 381.44 L284.3 381.44 L285.3 381.44 L286.3 381.44 L287.3 381.44 L288.3 381.44 L289.3 381.44 L290.3 381.44 L291.3 381.44 L292.3 381.44 L293.3 381.44 L294.3 381.44 L295.3 381.44 L296.3 381.44 L297.3 381.44 L298.3 381.44 L299.3 381.44 L300.3 381.44 L301.3 381.44 L302.3 381.44 L303.3 381.44 L304.3 381.44 L305.3 381.44 L306.3 381.44 L307.3 381.44 L308.3 381.44 L309.3 381.44 L310.3 381.44 L311.3 381.44 L312.3 381.44 L313.3 381.44 L314.3 381.44 L315.3 381.44 L316.3 381.44 L317.3 381.44 L318.3 381.44 L319.3 381.44 L320.3 381.44 L321.3 381.44 L322.3 381.44 L323.3 381.44 L324.3 381.44 L325.3 381.44 L326.3 381.44 L327.3 381.44 L328.3 381.44 L329.3 381.44 L330.3 381.44 L331.3 381.44 L332.3 381.44 L333.3 381.44 L334.3 381.44 L335.3 381.44 L336.3 381.44 L337.3 381.44 L338.3 381.44 L339.3 381.44 L340.3 381.44 L341.3 381.44 L342.3 381.44 L343.3 381.44 L344.3 381.44 L345.3 381.44 L346.3 381.44 L347.3 381.44 L348.3 381.44 L349.3 381.44 L350.3 381.44 L351.3 381.44 L352.3 381.44 L353.3 381.44 L354.3 381.44 L355.3 381.44 L356.3 381.44 L357.3 381.44 L358.3 381.44 L359.3 381.44 L360.3 381.44 L361.3 381.44 L362.3 381.44 L363.3 381.44 L364.3 381.44 L365.3 381.44 L366.3 381.44 L367.3 381.44 L368.3 381.44 L369.3 381.44 L370.3 381.44 L371.3 381.44 L372.3 381.44 L373.3 381.44 L374.3 381.44 L375.3 381.44 L376.3 381.44 L377.3 381.44 L378.3 381.44 L379.3 381.44 L380.3 381.44 L381.3 381.44 L382.3 381.44 L383.3 381.44 L384.3 381.44 L385.3 381.44 L386.3 381.44 L387.3 381.44 L388.3 381.44 L389.3 381.44 L390.3 381.44 L391.3 381.44 L392.3 381.44 L393.3 381.44 L394.3 381.44 L395.3 381.44 L396.3 381.44 L397.3 381.44 L398.3 381.44 L399.3 381.44 L400.3 381.44 L401.3 381.44 L402.3 381.44 L403.3 381.44 L404.3 381.44 L405.3 381.44 L406.3 381.44 L407.3 381.44 L408.3 381.44 L409.3 381.44 L410.3 381.44 L411.3 381.44 L412.3 381.44 L413.3 381.44 L414.3 381.44 L415.3 381.44 L416.3 381.44 L417.3 381.44 L418.3 381.44 L419.3 381.44 L420.3 381.44 L421.3 381.44 L422.3 381.44 L423.3 381.44 L424.3 381.44 L425.3 381.44 L426.3 381.44 L427.3 381.44 L428.3 381.44 L429.3 381.44 L430.3 381.44 L431.3 381.44 L432.3 381.44 L433.3 381.44 L434.3 381.44 L435.3 381.44 L436.3 381.44 L437.3 381.44 L438.3 381.44 L439.3 381.44 L440.3 381.44 L441.3 381.44 L442.3 381.44 L443.3 381.44 L444.3 381.44 L445.3 381.44 L446.3 381.44 L447.3 381.44 L448.3 381.44 L449.3 381.44 L450.3 381.44 L451.3 381.44 L452.3 381.44 L453.3 381.44 L454.3 381.44 L455.3 381.44 L456.3 381.44 L457.3 381.44 L458.3 381.44 L459.3 381.44 L460.3 381.44 L461.3 381.44 L462.3 381.44 L463.3 381.44 L464.3 381.44 L465.3 381.44 L466.3 381.44 L467.3 381.44 L468.3 381.44 L469.3 381.44 L470.3 381.44 L471.3 381.44 L472.3 381.44 L473.3 381.44 L474.3 381.44 L475.3 381.44 L476.3 381.44 L477.3 381.44 L478.3 381.44 L479.3 381.44 L480.3 381.44 L481.3 381.44 L482.3 381.44 L483.3 381.44 L484.3 381.44 L485.3 381.44 L486.3 381.44 L487.3 381.44 L488.3 381.44 L489.3 381.44 L490.3 381.44 L491.3 381.44 L492.3 381.44 L493.3 381.44 L494.3 381.44 L495.3 381.44 L496.3 381.44 L497.3 381.44 L498.3 381.44 L499.3 381.44 L500.3 381.44 L501.3 381.44 L502.3 381.44 L503.3 381.44 L504.3 381.44 L505.3 381.44 L506.3 381.44 L507.3 381.44 L508.3 381.44 L509.3 381.44 L510.3 381.44 L511.3 381.44 L512.3 381.44 L513.3 381.44 L514.3 381.44 L515.3 381.44 L516.3 381.44 L517.3 381.44 L518.3 381.44 L519.3 381.44 L520.3 381.44 L521.3 381.44 L522.3 381.44 L523.3 381.44 L524.3 381.44 L525.3 381.44 L526.3 381.44 L527.3 381.44 L528.3 381.44 L529.3 381.44 L530.3 381.44 L531.3 381.44 L532.3 381.44 L533.3 381.44 L534.3 381.44 L535.3 381.44 L536.3 381.44 L537.3 381.44 L538.3 381.44 L539.3 381.44 L540.3 381.44 L541.3 381.44 L542.3 381.44 L543.3 381.44 L544.3 381.44 L545.3 381.44 L546.3 381.44 L547.3 381.44 L548.3 381.44 L549.3 381.44 L550.3 381.44 L551.3 381.44 L552.3 381.44 L553.3 381.44 L554.3 381.44 L555.3 381.44 L556.3 381.44 L557.3 381.44 L558.3 381.44 L559.3 381.44 L560.3 381.44 L561.3 381.44 L562.3 381.44 L563.3 381.44 L564.3 381.44 L565.3 381.44 L566.3 381.44 L567.3 381.44 L568.3 381.44 L569.3 381.44 L570.3 381.44 L571.3 381.44 L572.3 381.44 L573.3 381.44 L574.3 381.44 L575.3 381.44 L576.3 381.44 L577.3 381.44 L578.3 381.44 L579.3 381.44 L580.3 381.44 L581.3 381.44 L582.3 381.44 L583.3 381.44 L584.3 381.44 L585.3 381.44 L586.3 381.44 L587.3 381.44 L588.3 381.44 L589.3 381.44 L590.3 381.44 L591.3 381.44 L592.3 381.44 L593.3 381.44 L594.3 381.44 L595.3 381.44 L596.3 381.44 L597.3 381.44 L598.3 381.44 L599.3 381.44 L600.3 381.44 L601.3 381.44 L602.3 381.44 L603.3 381.44 L604.3 381.44 L605.3 381.44 L606.3 381.44 L607.3 381.44 L608.3 381.44 L609.3 381.44 L610.3 381.44 L611.3 381.44 L612.3 381.44 L613.3 381.44 L614.3 381.44 L615.3 381.44 L616.3 381.44 L617.3 381.44 L618.3 381.44 L619.3 381.44 L620.3 381.44 L621.3 381.44 L622.3 381.44 L623.3 381.44 L624.3 381.44 L625.3 381.44 L626.3 381.44 L627.3 381.44 L628.3 381.44 L629.3 381.44 L630.3 381.44 L631.3 381.44 L632.3 381.44 L633.3 381.44 L634.3 381.44 L635.3 381.44 L636.3 381.44 L637.3 381.44 L638.3 381.44 L639.3 381.44 L640.3 381.44 L641.3 381.44 L642.3 381.44 L643.3 381.44 L644.3 381.44 L645.3 381.44 L646.3 381.44 L647.3 381.44 L648.3 381.44 L649.3 381.44 L650.3 381.44 L651 381.44" fill="none" stroke="#000" stroke-width="2.50" stroke-linejoin="round"/>
<path d="M11.3 453.62 L12.3 453.62 L13.3 453.62 L14.3 453.62 L15.3 453.62 L16.3 453.62 L17.3 453.62 L18.3 453.62 L19.3 453.62 L20.3 453.62 L21.3 453.62 L22.3 453.62 L23.3 453.62 L24.3 453.62 L25.3 453.62 L26.3 453.62 L27.3 453.62 L28.3 453.62 L29.3 453.62 L30.3 453.62 L31.3 453.62 L32.3 453.62 L33.3 453.62 L34.3 453.62 L35.3 453.62 L36.3 453.62 L37.3 453.62 L38.3 453.62 L39.3 453.62 L40.3 453.62 L41.3 453.62 L42.3 453.62 L43.3 453.62 L44.3 453.62 L45.3 453.62 L46.3 453.62 L47.3 453.62 L48.3 453.62 L49.3 453.62 L50.3 453.62 L51.3 453.62 L52.3 453.62 L53.3 453.62 L54.3 453.62 L55.3 453.62 L56.3 453.62 L57.3 453.62 L58.3 453.62 L59.3 453.62 L60.3 453.62 L61.3 453.62 L62.3 453.62 L63.3 453.62 L64.3 453.62 L65.3 453.62 L66.3 453.62 L67.3 453.62 L68.3 453.62 L69.3 453.62 L70.3 453.62 L71.3 453.62 L72.3 453.62 L73.3 453.62 L74.3 453.62 L75.3 453.62 L76.3 453.62 L77.3 453.62 L78.3 453.62 L79.3 453.62 L80.3 453.62 L81.3 453.62 L82.3 453.62 L83.3 453.62 L84.3 453.62 L85.3 453.62 L86.3 453.62 L87.3 453.62 L88.3 453.62 L89.3 453.62 L90.3 453.62 L91.3 453.62 L92.3 453.62 L93.3 453.62 L94.3 453.62 L95.3 453.62 L96.3 453.62 L97.3 453.62 L98.3 453.62 L99.3 453.62 L100.3 453.62 L101.3 453.62 L102.3 453.62 L103.3 453.62 L104.3 453.62 L105.3 453.62 L106.3 453.62 L107.3 453.62 L108.3 453.62 L109.3 453.62 L110.3 453.62 L111.3 453.62 L112.3 453.62 L113.3 453.62 L114.3 453.62 L115.3 453.62 L116.3 453.62 L117.3 453.62 L118.3 453.62 L119.3 453.62 L120.3 453.62 L121.3 453.62 L122.3 453.62 L123.3 453.62 L124.3 453.62 L125.3 453.62 L126.3 453.62 L127.3 453.62 L128.3 453.62 L129.3 453.62 L130.3 453.62 L131.3 453.62 L132.3 453.62 L133.3 453.62 L134.3 453.62 L135.3 453.62 L136.3 453.62 L137.3 453.62 L138.3 453.62 L139.3 453.62 L140.3 453.62 L141.3 453.62 L142.3 453.62 L143.3 453.62 L144.3 453.62 L145.3 453.62 L146.3 453.62 L147.3 453.62 L148.3 453.62 L149.3 453.62 L150.3 453.62 L151.3 453.62 L152.3 453.62 L153.3 453.62 L154.3 453.62 L155.3 453.62 L156.3 453.62 L157.3 453.62 L158.3 453.62 L159.3 453.62 L160.3 453.62 L161.3 453.62 L162.3 453.62 L163.3 453.62 L164.3 453.62 L165.3 453.62 L166.3 453.62 L167.3 453.62 L168.3 453.62 L169.3 453.62 L170.3 453.62 L171.3 453.62 L172.3 453.62 L173.3 453.62 L174.3 453.62 L175.3 453.62 L176.3 453.62 L177.3 453.62 L178.3 453.62 L179.3 453.62 L180.3 453.62 L181.3 453.62 L182.3 453.62 L183.3 453.62 L184.3 453.62 L185.3 453.62 L186.3 453.62 L187.3 453.62 L188.3 453.62 L189.3 453.62 L190.3 453.62 L191.3 453.62 L192.3 453.62 L193.3 453.62 L194.3 453.62 L195.3 453.62 L196.3 453.62 L197.3 453.62 L198.3 453.62 L199.3 453.62 L200.3 453.62 L201.3 453.62 L202.3 453.62 L203.3 453.62 L204.3 453.62 L205.3 453.62 L206.3 453.62 L207.3 453.62 L208.3 453.62 L209.3 453.62 L210.3 453.62 L211.3 453.62 L212.3 453.62 L213.3 453.62 L214.3 453.62 L215.3 453.62 L216.3 453.62 L217.3 453.62 L218.3 453.62 L219.3 453.62 L220.3 453.62 L221.3 453.62 L222.3 453.62 L223.3 453.62 L224.3 453.62 L225.3 453.62 L226.3 453.62 L227.3 453.62 L228.3 453.62 L229.3 453.62 L230.3 453.62 L231.3 453.62 L232.3 453.62 L233.3 453.62 L234.3 453.62 L235.3 453.62 L236.3 453.62 L237.3 453.62 L238.3 453.62 L239.3 453.62 L240.3 453.62 L241.3 453.62 L242.3 453.62 L243.3 453.62 L244.3 453.62 L245.3 453.62 L246.3 453.62 L247.3 453.62 L248.3 453.62 L249.3 453.62 L250.3 453.62 L251.3 453.62 L252.3 453.62 L253.3 453.62 L254.3 453.62 L255.3 453.62 L256.3 453.62 L257.3 453.62 L258.3 453.62 L259.3 453.62 L260.3 453.62 L261.3 453.62 L262.3 453.62 L263.3 453.62 L264.3 453.62 L265.3 453.62 L266.3 453.62 L267.3 453.62 L268.3 453.62 L269.3 453.62 L270.3 453.62 L271.3 453.62 L272.3 453.62 L273.3 453.62 L274.3 453.62 L275.3 453.62 L276.3 453.62 L277.3 453.62 L278.3 453.62 L279.3 453.62 L280.3 453.62 L281.3 453.62 L282.3 453.62 L283.3 453.62 L284.3 453.62 L285.3 453.62 L286.3 453.62 L287.3 453.62 L288.3 453.62 L289.3 453.62 L290.3 453.62 L291.3 453.62 L292.3 453.62 L293.3 453.62 L294.3 453.62 L295.3 453.62 L296.3 453.62 L297.3 453.62 L298.3 453.62 L299.3 453.62 L300.3 453.62 L301.3 453.62 L302.3 453.62 L303.3 453.62 L304.3 453.62 L305.3 453.62 L306.3 453.62 L307.3 453.62 L308.3 453.62 L309.3 453.62 L310.3 453.62 L311.3 453.62 L312.3 453.62 L313.3 453.62 L314.3 453.62 L315.3 453.62 L316.3 453.62 L317.3 453.62 L318.3 453.62 L319.3 453.62 L320.3 453.62 L321.3 453.62 L322.3 453.62 L323.3 453.62 L324.3 453.62 L325.3 453.62 L326.3 453.62 L327.3 453.62 L328.3 453.62 L329.3 453.62 L330.3 453.62 L331.3 453.62 L332.3 453.62 L333.3 453.62 L334.3 453.62 L335.3 453.62 L336.3 453.62 L337.3 453.62 L338.3 453.62 L339.3 453.62 L340.3 453.62 L341.3 453.62 L342.3 453.62 L343.3 453.62 L344.3 453.62 L345.3 453.62 L346.3 453.62 L347.3 453.62 L348.3 453.62 L349.3 453.62 L350.3 453.62 L351.3 453.62 L352.3 453.62 L353.3 453.62 L354.3 453.62 L355.3 453.62 L356.3 453.62 L357.3 453.62 L358.3 453.62 L359.3 453.62 L360.3 453.62 L361.3 453.62 L362.3 453.62 L363.3 453.62 L364.3 453.62 L365.3 453.62 L366.3 453.62 L367.3 453.62 L368.3 453.62 L369.3 453.62 L370.3 453.62 L371.3 453.62 L372.3 453.62 L373.3 453.62 L374.3 453.62 L375.3 453.62 L376.3 453.62 L377.3 453.62 L378.3 453.62 L379.3 453.62 L380.3 453.62 L381.3 453.62 L382.3 453.62 L383.3 453.62 L384.3 453.62 L385.3 453.62 L386.3 453.62 L387.3 453.62 L388.3 453.62 L389.3 453.62 L390.3 453.62 L391.3 453.62 L392.3 453.62 L393.3 453.62 L394.3 453.62 L395.3 453.62 L396.3 453.62 L397.3 453.62 L398.3 453.62 L399.3 453.62 L400.3 453.62 L401.3 453.62 L402.3 453.62 L403.3 453.62 L404.3 453.62 L405.3 453.62 L406.3 453.62 L407.3 453.62 L408.3 453.62 L409.3 453.62 L410.3 453.62 L411.3 453.62 L412.3 453.62 L413.3 453.62 L414.3 453.62 L415.3 453.62 L416.3 453.62 L417.3 453.62 L418.3 453.62 L419.3 453.62 L420.3 453.62 L421.3 453.62 L422.3 453.62 L423.3 453.62 L424.3 453.62 L425.3 453.62 L426.3 453.62 L427.3 453.62 L428.3 453.62 L429.3 453.62 L430.3 453.62 L431.3 453.62 L432.3 453.62 L433.3 453.62 L434.3 453.62 L435.3 453.62 L436.3 453.62 L437.3 453.62 L438.3 453.62 L439.3 453.62 L440.3 453.62 L441.3 453.62 L442.3 453.62 L443.3 453.62 L444.3 453.62 L445.3 453.62 L446.3 453.62 L447.3 453.62 L448.3 453.62 L449.3 453.62 L450.3 453.62 L451.3 453.62 L452.3 453.62 L453.3 453.62 L454.3 453.62 L455.3 453.62 L456.3 453.62 L457.3 453.62 L458.3 453.62 L459.3 453.62 L460.3 453.62 L461.3 453.62 L462.3 453.62 L463.3 453.62 L464.3 453.62 L465.3 453.62 L466.3 453.62 L467.3 453.62 L468.3 453.62 L469.3 453.62 L470.3 453.62 L471.3 453.62 L472.3 453.62 L473.3 453.62 L474.3 453.62 L475.3 453.62 L476.3 453.62 L477.3 453.62 L478.3 453.62 L479.3 453.62 L480.3 453.62 L481.3 453.62 L482.3 453.62 L483.3 453.62 L484.3 453.62 L485.3 453.62 L486.3 453.62 L487.3 453.62 L488.3 453.62 L489.3 453.62 L490.3 453.62 L491.3 453.62 L492.3 453.62 L493.3 453.62 L494.3 453.62 L495.3 453.62 L496.3 453.62 L497.3 453.62 L498.3 453.62 L499.3 453.62 L500.3 453.62 L501.3 453.62 L502.3 453.62 L503.3 453.62 L504.3 453.62 L505.3 453.62 L506.3 453.62 L507.3 453.62 L508.3 453.62 L509.3 453.62 L510.3 453.62 L511.3 453.62 L512.3 453.62 L513.3 453.62 L514.3 453.62 L515.3 453.62 L516.3 453.62 L517.3 453.62 L518.3 453.62 L519.3 453.62 L520.3 453.62 L521.3 453.62 L522.3 453.62 L523.3 453.62 L524.3 453.62 L525.3 453.62 L526.3 453.62 L527.3 453.62 L528.3 453.62 L529.3 453.62 L530.3 453.62 L531.3 453.62 L532.3 453.62 L533.3 453.62 L534.3 453.62 L535.3 453.62 L536.3 453.62 L537.3 453.62 L538.3 453.62 L539.3 453.62 L540.3 453.62 L541.3 453.62 L542.3 453.62 L543.3 453.62 L544.3 453.62 L545.3 453.62 L546.3 453.62 L547.3 453.62 L548.3 453.62 L549.3 453.62 L550.3 453.62 L551.3 453.62 L552.3 453.62 L553.3 453.62 L554.3 453.62 L555.3 453.62 L556.3 453.62 L557.3 453.62 L558.3 453.62 L559.3 453.62 L560.3 453.62 L561.3 453.62 L562.3 453.62 L563.3 453.62 L564.3 453.62 L565.3 453.62 L566.3 453.62 L567.3 453.62 L568.3 453.62 L569.3 453.62 L570.3 453.62 L571.3 453.62 L572.3 453.62 L573.3 453.62 L574.3 453.62 L575.3 453.62 L576.3 453.62 L577.3 453.62 L578.3 453.62 L579.3 453.62 L580.3 453.62 L581.3 453.62 L582.3 453.62 L583.3 453.62 L584.3 453.62 L585.3 453.62 L586.3 453.62 L587.3 453.62 L588.3 453.62 L589.3 453.62 L590.3 453.62 L591.3 453.62 L592.3 453.62 L593.3 453.62 L594.3 453.62 L595.3 453.62 L596.3 453.62 L597.3 453.62 L598.3 453.62 L599.3 453.62 L600.3 453.62 L601.3 453.62 L602.3 453.62 L603.3 453.62 L604.3 453.62 L605.3 453.62 L606.3 453.62 L607.3 453.62 L608.3 453.62 L609.3 453.62 L610.3 453.62 L611.3 453.62 L612.3 453.62 L613.3 453.62 L614.3 453.62 L615.3 453.62 L616.3 453.62 L617.3 453.62 L618.3 453.62 L619.3 453.62 L620.3 453.62 L621.3 453.62 L622.3 453.62 L623.3 453.62 L624.3 453.62 L625.3 453.62 L626.3 453.62 L627.3 453.62 L628.3 453.62 L629.3 453.62 L630.3 453.62 L631.3 453.62 L632.3 453.62 L633.3 453.62 L634.3 453.62 L635.3 453.62 L636.3 453.62 L637.3 453.62 L638.3 453.62 L639.3 453.62 L640.3 453.62 L641.3 453.62 L642.3 453.62 L643.3 453.62 L644.3 453.62 L645.3 453.62 L646.3 453.62 L647.3 453.62 L648.3 453.62 L649.3 453.62 L650.3 453.62 L651 453.62" fill="none" stroke="#000" stroke-width="2.50" stroke-linejoin="round"/>
<path d="M11.3 525.8 L12.3 525.8 L13.3 525.8 L14.3 525.8 L15.3 525.8 L16.3 525.8 L17.3 525.8 L18.3 525.8 L19.3 525.8 L20.3 525.8 L21.3 525.8 L22.3 525.8 L23.3 525.8 L24.3 525.8 L25.3 525.8 L26.3 525.8 L27.3 525.8 L28.3 525.8 L29.3 525.8 L30.3 525.8 L31.3 525.8 L32.3 525.8 L33.3 525.8 L34.3 525.8 L35.3 525.8 L36.3 525.8 L37.3 525.8 L38.3 525.8 L39.3 525.8 L40.3 525.8 L41.3 525.8 L42.3 525.8 L43.3 525.8 L44.3 525.8 L45.3 525.8 L46.3 525.8 L47.3 525.8 L48.3 525.8 L49.3 525.8 L50.3 525.8 L51.3 525.8 L52.3 525.8 L53.3 525.8 L54.3 525.8 L55.3 525.8 L56.3 525.8 L57.3 525.8 L58.3 525.8 L59.3 525.8 L60.3 525.8 L61.3 525.8 L62.3 525.8 L63.3 525.8 L64.3 525.8 L65.3 525.8 L66.3 525.8 L67.3 525.8 L68.3 525.8 L69.3 525.8 L70.3 525.8 L71.3 525.8 L72.3 525.8 L73.3 525.8 L74.3 525.8 L75.3 525.8 L76.3 525.8 L77.3 525.8 L78.3 525.8 L79.3 525.8 L80.3 525.8 L81.3 525.8 L82.3 525.8 L83.3 525.8 L84.3 525.8 L85.3 525.8 L86.3 525.8 L87.3 525.8 L88.3 525.8 L89.3 525.8 L90.3 525.8 L91.3 525.8 L92.3 525.8 L93.3 525.8 L94.3 525.8 L95.3 525.8 L96.3 525.8 L97.3 525.8 L98.3 525.8 L99.3 525.8 L100.3 525.8 L101.3 525.8 L102.3 525.8 L103.3 525.8 L104.3 525.8 L105.3 525.8 L106.3 525.8 L107.3 525.8 L108.3 525.8 L109.3 525.8 L110.3 525.8 L111.3 525.8 L112.3 525.8 L113.3 525.8 L114.3 525.8 L115.3 525.8 L116.3 525.8 L117.3 525.8 L118.3 525.8 L119.3 525.8 L120.3 525.8 L121.3 525.8 L122.3 525.8 L123.3 525.8 L124.3 525.8 L125.3 525.8 L126.3 525.8 L127.3 525.8 L128.3 525.8 L129.3 525.8 L130.3 525.8 L131.3 525.8 L132.3 525.8 L133.3 525.8 L134.3 525.8 L135.3 525.8 L136.3 525.8 L137.3 525.8 L138.3 525.8 L139.3 525.8 L140.3 525.8 L141.3 525.8 L142.3 525.8 L143.3 525.8 L144.3 525.8 L145.3 525.8 L146.3 525.8 L147.3 525.8 L148.3 525.8 L149.3 525.8 L150.3 525.8 L151.3 525.8 L152.3 525.8 L153.3 525.8 L154.3 525.8 L155.3 525.8 L156.3 525.8 L157.3 525.8 L158.3 525.8 L159.3 525.8 L160.3 525.8 L161.3 525.8 L162.3 525.8 L163.3 525.8 L164.3 525.8 L165.3 525.8 L166.3 525.8 L167.3 525.8 L168.3 525.8 L169.3 525.8 L170.3 525.8 L171.3 525.8 L172.3 525.8 L173.3 525.8 L174.3 525.8 L175.3 525.8 L176.3 525.8 L177.3 525.8 L178.3 525.8 L179.3 525.8 L180.3 525.8 L181.3 525.8 L182.3 525.8 L183.3 525.8 L184.3 525.8 L185.3 525.8 L186.3 525.8 L187.3 525.8 L188.3 525.8 L189.3 525.8 L190.3 525.8 L191.3 525.8 L192.3 525.8 L193.3 525.8 L194.3 525.8 L195.3 525.8 L196.3 525.8 L197.3 525.8 L198.3 525.8 L199.3 525.8 L200.3 525.8 L201.3 525.8 L202.3 525.8 L203.3 525.8 L204.3 525.8 L205.3 525.8 L206.3 525.8 L207.3 525.8 L208.3 525.8 L209.3 525.8 L210.3 525.8 L211.3 525.8 L212.3 525.8 L213.3 525.8 L214.3 525.8 L215.3 525.8 L216.3 525.8 L217.3 525.8 L218.3 525.8 L219.3 525.8 L220.3 525.8 L221.3 525.8 L222.3 525.8 L223.3 525.8 L224.3 525.8 L225.3 525.8 L226.3 525.8 L227.3 525.8 L228.3 525.8 L229.3 525.8 L230.3 525.8 L231.3 525.8 L232.3 525.8 L233.3 525.8 L234.3 525.8 L235.3 525.8 L236.3 525.8 L237.3 525.8 L238.3 525.8 L239.3 525.8 L240.3 525.8 L241.3 525.8 L242.3 525.8 L243.3 525.8 L244.3 525.8 L245.3 525.8 L246.3 525.8 L247.3 525.8 L248.3 525.8 L249.3 525.8 L250.3 525.8 L251.3 525.8 L252.3 525.8 L253.3 525.8 L254.3 525.8 L255.3 525.8 L256.3 525.8 L257.3 525.8 L258.3 525.8 L259.3 525.8 L260.3 525.8 L261.3 525.8 L262.3 525.8 L263.3 525.8 L264.3 525.8 L265.3 525.8 L266.3 525.8 L267.3 525.8 L268.3 525.8 L269.3 525.8 L270.3 525.8 L271.3 525.8 L272.3 525.8 L273.3 525.8 L274.3 525.8 L275.3 525.8 L276.3 525.8 L277.3 525.8 L278.3 525.8 L279.3 525.8 L280.3 525.8 L281.3 525.8 L282.3 525.8 L283.3 525.8 L284.3 525.8 L285.3 525.8 L286.3 525.8 L287.3 525.8 L288.3 525.8 L289.3 525.8 L290.3 525.8 L291.3 525.8 L292.3 525.8 L293.3 525.8 L294.3 525.8 L295.3 525.8 L296.3 525.8 L297.3 525.8 L298.3 525.8 L299.3 525.8 L300.3 525.8 L301.3 525.8 L302.3 525.8 L303.3 525.8 L304.3 525.8 L305.3 525.8 L306.3 525.8 L307.3 525.8 L308.3 525.8 L309.3 525.8 L310.3 525.8 L311.3 525.8 L312.3 525.8 L313.3 525.8 L314.3 525.8 L315.3 525.8 L316.3 525.8 L317.3 525.8 L318.3 525.8 L319.3 525.8 L320.3 525.8 L321.3 525.8 L322.3 525.8 L323.3 525.8 L324.3 525.8 L325.3 525.8 L326.3 525.8 L327.3 525.8 L328.3 525.8 L329.3 525.8 L330.3 525.8 L331.3 525.8 L332.3 525.8 L333.3 525.8 L334.3 525.8 L335.3 525.8 L336.3 525.8 L337.3 525.8 L338.3 525.8 L339.3 525.8 L340.3 525.8 L341.3 525.8 L342.3 525.8 L343.3 525.8 L344.3 525.8 L345.3 525.8 L346.3 525.8 L347.3 525.8 L348.3 525.8 L349.3 525.8 L350.3 525.8 L351.3 525.8 L352.3 525.8 L353.3 525.8 L354.3 525.8 L355.3 525.8 L356.3 525.8 L357.3 525.8 L358.3 525.8 L359.3 525.8 L360.3 525.8 L361.3 525.8 L362.3 525.8 L363.3 525.8 L364.3 525.8 L365.3 525.8 L366.3 525.8 L367.3 525.8 L368.3 525.8 L369.3 525.8 L370.3 525.8 L371.3 525.8 L372.3 525.8 L373.3 525.8 L374.3 525.8 L375.3 525.8 L376.3 525.8 L377.3 525.8 L378.3 525.8 L379.3 525.8 L380.3 525.8 L381.3 525.8 L382.3 525.8 L383.3 525.8 L384.3 525.8 L385.3 525.8 L386.3 525.8 L387.3 525.8 L388.3 525.8 L389.3 525.8 L390.3 525.8 L391.3 525.8 L392.3 525.8 L393.3 525.8 L394.3 525.8 L395.3 525.8 L396.3 525.8 L397.3 525.8 L398.3 525.8 L399.3 525.8 L400.3 525.8 L401.3 525.8 L402.3 525.8 L403.3 525.8 L404.3 525.8 L405.3 525.8 L406.3 525.8 L407.3 525.8 L408.3 525.8 L409.3 525.8 L410.3 525.8 L411.3 525.8 L412.3 525.8 L413.3 525.8 L414.3 525.8 L415.3 525.8 L416.3 525.8 L417.3 525.8 L418.3 525.8 L419.3 525.8 L420.3 525.8 L421.3 525.8 L422.3 525.8 L423.3 525.8 L424.3 525.8 L425.3 525.8 L426.3 525.8 L427.3 525.8 L428.3 525.8 L429.3 525.8 L430.3 525.8 L431.3 525.8 L432.3 525.8 L433.3 525.8 L434.3 525.8 L435.3 525.8 L436.3 525.8 L437.3 525.8 L438.3 525.8 L439.3 525.8 L440.3 525.8 L441.3 525.8 L442.3 525.8 L443.3 525.8 L444.3 525.8 L445.3 525.8 L446.3 525.8 L447.3 525.8 L448.3 525.8 L449.3 525.8 L450.3 525.8 L451.3 525.8 L452.3 525.8 L453.3 525.8 L454.3 525.8 L455.3 525.8 L456.3 525.8 L457.3 525.8 L458.3 525.8 L459.3 525.8 L460.3 525.8 L461.3 525.8 L462.3 525.8 L463.3 525.8 L464.3 525.8 L465.3 525.8 L466.3 525.8 L467.3 525.8 L468.3 525.8 L469.3 525.8 L470.3 525.8 L471.3 525.8 L472.3 525.8 L473.3 525.8 L474.3 525.8 L475.3 525.8 L476.3 525.8 L477.3 525.8 L478.3 525.79 L479.3 525.79 L480.3 525.78 L481.3 525.77 L482.3 525.75 L483.3 525.73 L484.3 525.69 L485.3 525.65 L486.3 525.6 L487.3 525.53 L488.3 525.45 L489.3 525.36 L490.3 525.26 L491.3 525.16 L492.3 525.06 L493.3 524.97 L494.3 524.9 L495.3 524.84 L496.3 524.81 L497.3 524.8 L498.3 524.82 L499.3 524.87 L500.3 524.94 L501.3 525.03 L502.3 525.12 L503.3 525.22 L504.3 525.32 L505.3 525.42 L506.3 525.5 L507.3 525.57 L508.3 525.63 L509.3 525.68 L510.3 525.71 L511.3 525.74 L512.3 525.76 L513.3 525.78 L514.3 525.78 L515.3 525.79 L516.3 525.79 L517.3 525.8 L518.3 525.8 L519.3 525.8 L520.3 525.8 L521.3 525.8 L522.3 525.8 L523.3 525.8 L524.3 525.8 L525.3 525.8 L526.3 525.8 L527.3 525.8 L528.3 525.8 L529.3 525.8 L530.3 525.8 L531.3 525.8 L532.3 525.8 L533.3 525.8 L534.3 525.8 L535.3 525.8 L536.3 525.8 L537.3 525.8 L538.3 525.8 L539.3 525.8 L540.3 525.8 L541.3 525.8 L542.3 525.8 L543.3 525.8 L544.3 525.8 L545.3 525.8 L546.3 525.8 L547.3 525.8 L548.3 525.8 L549.3 525.8 L550.3 525.8 L551.3 525.8 L552.3 525.8 L553.3 525.8 L554.3 525.8 L555.3 525.8 L556.3 525.8 L557.3 525.8 L558.3 525.8 L559.3 525.8 L560.3 525.8 L561.3 525.8 L562.3 525.8 L563.3 525.8 L564.3 525.8 L565.3 525.8 L566.3 525.8 L567.3 525.8 L568.3 525.8 L569.3 525.8 L570.3 525.8 L571.3 525.8 L572.3 525.8 L573.3 525.8 L574.3 525.8 L575.3 525.8 L576.3 525.8 L577.3 525.8 L578.3 525.8 L579.3 525.8 L580.3 525.8 L581.3 525.8 L582.3 525.8 L583.3 525.8 L584.3 525.8 L585.3 525.8 L586.3 525.8 L587.3 525.8 L588.3 525.8 L589.3 525.8 L590.3 525.8 L591.3 525.8 L592.3 525.8 L593.3 525.8 L594.3 525.8 L595.3 525.8 L596.3 525.8 L597.3 525.8 L598.3 525.8 L599.3 525.8 L600.3 525.8 L601.3 525.8 L602.3 525.8 L603.3 525.8 L604.3 525.8 L605.3 525.8 L606.3 525.8 L607.3 525.8 L608.3 525.8 L609.3 525.8 L610.3 525.8 L611.3 525.8 L612.3 525.8 L613.3 525.8 L614.3 525.8 L615.3 525.8 L616.3 525.8 L617.3 525.8 L618.3 525.8 L619.3 525.8 L620.3 525.8 L621.3 525.8 L622.3 525.8 L623.3 525.8 L624.3 525.8 L625.3 525.8 L626.3 525.8 L627.3 525.8 L628.3 525.8 L629.3 525.8 L630.3 525.8 L631.3 525.8 L632.3 525.8 L633.3 525.8 L634.3 525.8 L635.3 525.8 L636.3 525.8 L637.3 525.8 L638.3 525.8 L639.3 525.8 L640.3 525.8 L641.3 525.8 L642.3 525.8 L643.3 525.8 L644.3 525.8 L645.3 525.8 L646.3 525.8 L647.3 525.8 L648.3 525.8 L649.3 525.8 L650.3 525.8 L651 525.8" fill="none" stroke="#000" stroke-width="2.50" stroke-linejoin="round"/>
<line x1="482" y1="525.8" x2="512" y2="525.8" stroke="#000" stroke-width="2.50"/>
<line x1="12" y1="526.5" x2="17" y2="526.5" stroke="#000" stroke-width="2.5" stroke-linecap="round"/>
<line x1="47" y1="526.5" x2="100" y2="526.5" stroke="#000" stroke-width="2.5" stroke-linecap="round"/>
<line x1="122" y1="526.5" x2="149" y2="526.5" stroke="#000" stroke-width="2.5" stroke-linecap="round"/>
<line x1="176" y1="526.5" x2="191" y2="526.5" stroke="#000" stroke-width="2.5" stroke-linecap="round"/>
<line x1="206" y1="526.5" x2="223" y2="526.5" stroke="#000" stroke-width="2.5" stroke-linecap="round"/>
<line x1="238" y1="526.5" x2="245" y2="526.5" stroke="#000" stroke-width="2.5" stroke-linecap="round"/>
<line x1="270" y1="526.5" x2="292" y2="526.5" stroke="#000" stroke-width="2.5" stroke-linecap="round"/>
<path d="M11.3 597.98 L12.3 597.98 L13.3 597.98 L14.3 597.98 L15.3 597.98 L16.3 597.98 L17.3 597.98 L18.3 597.98 L19.3 597.98 L20.3 597.98 L21.3 597.98 L22.3 597.98 L23.3 597.98 L24.3 597.98 L25.3 597.98 L26.3 597.98 L27.3 597.98 L28.3 597.98 L29.3 597.98 L30.3 597.98 L31.3 597.98 L32.3 597.98 L33.3 597.98 L34.3 597.98 L35.3 597.98 L36.3 597.98 L37.3 597.98 L38.3 597.98 L39.3 597.98 L40.3 597.98 L41.3 597.98 L42.3 597.98 L43.3 597.98 L44.3 597.98 L45.3 597.98 L46.3 597.98 L47.3 597.98 L48.3 597.98 L49.3 597.98 L50.3 597.98 L51.3 597.98 L52.3 597.98 L53.3 597.98 L54.3 597.98 L55.3 597.98 L56.3 597.98 L57.3 597.98 L58.3 597.98 L59.3 597.98 L60.3 597.98 L61.3 597.98 L62.3 597.98 L63.3 597.98 L64.3 597.98 L65.3 597.98 L66.3 597.98 L67.3 597.98 L68.3 597.98 L69.3 597.98 L70.3 597.98 L71.3 597.98 L72.3 597.98 L73.3 597.98 L74.3 597.98 L75.3 597.98 L76.3 597.98 L77.3 597.98 L78.3 597.98 L79.3 597.98 L80.3 597.98 L81.3 597.98 L82.3 597.98 L83.3 597.98 L84.3 597.98 L85.3 597.98 L86.3 597.98 L87.3 597.98 L88.3 597.98 L89.3 597.98 L90.3 597.98 L91.3 597.98 L92.3 597.98 L93.3 597.98 L94.3 597.98 L95.3 597.98 L96.3 597.98 L97.3 597.98 L98.3 597.98 L99.3 597.98 L100.3 597.98 L101.3 597.98 L102.3 597.98 L103.3 597.98 L104.3 597.98 L105.3 597.98 L106.3 597.98 L107.3 597.98 L108.3 597.98 L109.3 597.98 L110.3 597.98 L111.3 597.98 L112.3 597.98 L113.3 597.98 L114.3 597.98 L115.3 597.98 L116.3 597.98 L117.3 597.98 L118.3 597.98 L119.3 597.98 L120.3 597.98 L121.3 597.98 L122.3 597.98 L123.3 597.98 L124.3 597.98 L125.3 597.98 L126.3 597.98 L127.3 597.98 L128.3 597.98 L129.3 597.98 L130.3 597.98 L131.3 597.98 L132.3 597.98 L133.3 597.98 L134.3 597.98 L135.3 597.98 L136.3 597.98 L137.3 597.98 L138.3 597.98 L139.3 597.98 L140.3 597.98 L141.3 597.98 L142.3 597.98 L143.3 597.98 L144.3 597.98 L145.3 597.98 L146.3 597.98 L147.3 597.98 L148.3 597.98 L149.3 597.98 L150.3 597.98 L151.3 597.98 L152.3 597.98 L153.3 597.98 L154.3 597.98 L155.3 597.98 L156.3 597.98 L157.3 597.98 L158.3 597.98 L159.3 597.98 L160.3 597.98 L161.3 597.98 L162.3 597.98 L163.3 597.98 L164.3 597.98 L165.3 597.98 L166.3 597.98 L167.3 597.98 L168.3 597.98 L169.3 597.98 L170.3 597.98 L171.3 597.98 L172.3 597.98 L173.3 597.98 L174.3 597.98 L175.3 597.98 L176.3 597.98 L177.3 597.98 L178.3 597.98 L179.3 597.98 L180.3 597.98 L181.3 597.98 L182.3 597.98 L183.3 597.98 L184.3 597.98 L185.3 597.98 L186.3 597.98 L187.3 597.98 L188.3 597.98 L189.3 597.98 L190.3 597.98 L191.3 597.98 L192.3 597.98 L193.3 597.98 L194.3 597.98 L195.3 597.98 L196.3 597.98 L197.3 597.98 L198.3 597.98 L199.3 597.98 L200.3 597.98 L201.3 597.98 L202.3 597.98 L203.3 597.98 L204.3 597.98 L205.3 597.98 L206.3 597.98 L207.3 597.98 L208.3 597.98 L209.3 597.98 L210.3 597.98 L211.3 597.98 L212.3 597.98 L213.3 597.98 L214.3 597.98 L215.3 597.98 L216.3 597.98 L217.3 597.98 L218.3 597.98 L219.3 597.98 L220.3 597.98 L221.3 597.98 L222.3 597.98 L223.3 597.98 L224.3 597.98 L225.3 597.98 L226.3 597.98 L227.3 597.98 L228.3 597.98 L229.3 597.98 L230.3 597.98 L231.3 597.98 L232.3 597.98 L233.3 597.98 L234.3 597.98 L235.3 597.98 L236.3 597.98 L237.3 597.97 L238.3 597.96 L239.3 597.92 L240.3 597.85 L241.3 597.72 L242.3 597.51 L243.3 597.23 L244.3 596.91 L245.3 596.62 L246.3 596.42 L247.3 596.39 L248.3 596.52 L249.3 596.79 L250.3 597.11 L251.3 597.41 L252.3 597.64 L253.3 597.8 L254.3 597.9 L255.3 597.95 L256.3 597.97 L257.3 597.98 L258.3 597.98 L259.3 597.98 L260.3 597.98 L261.3 597.98 L262.3 597.98 L263.3 597.98 L264.3 597.98 L265.3 597.98 L266.3 597.98 L267.3 597.98 L268.3 597.98 L269.3 597.98 L270.3 597.98 L271.3 597.98 L272.3 597.98 L273.3 597.98 L274.3 597.98 L275.3 597.98 L276.3 597.98 L277.3 597.98 L278.3 597.98 L279.3 597.98 L280.3 597.98 L281.3 597.98 L282.3 597.98 L283.3 597.98 L284.3 597.98 L285.3 597.98 L286.3 597.98 L287.3 597.98 L288.3 597.98 L289.3 597.98 L290.3 597.98 L291.3 597.98 L292.3 597.98 L293.3 597.98 L294.3 597.98 L295.3 597.98 L296.3 597.98 L297.3 597.98 L298.3 597.98 L299.3 597.98 L300.3 597.98 L301.3 597.98 L302.3 597.98 L303.3 597.98 L304.3 597.98 L305.3 597.98 L306.3 597.98 L307.3 597.98 L308.3 597.98 L309.3 597.98 L310.3 597.98 L311.3 597.98 L312.3 597.98 L313.3 597.98 L314.3 597.98 L315.3 597.98 L316.3 597.98 L317.3 597.98 L318.3 597.98 L319.3 597.98 L320.3 597.98 L321.3 597.98 L322.3 597.98 L323.3 597.98 L324.3 597.98 L325.3 597.98 L326.3 597.98 L327.3 597.98 L328.3 597.98 L329.3 597.98 L330.3 597.98 L331.3 597.98 L332.3 597.98 L333.3 597.98 L334.3 597.98 L335.3 597.98 L336.3 597.98 L337.3 597.98 L338.3 597.98 L339.3 597.98 L340.3 597.98 L341.3 597.98 L342.3 597.98 L343.3 597.98 L344.3 597.98 L345.3 597.98 L346.3 597.98 L347.3 597.98 L348.3 597.98 L349.3 597.98 L350.3 597.98 L351.3 597.98 L352.3 597.98 L353.3 597.98 L354.3 597.98 L355.3 597.98 L356.3 597.98 L357.3 597.98 L358.3 597.98 L359.3 597.98 L360.3 597.98 L361.3 597.98 L362.3 597.98 L363.3 597.98 L364.3 597.98 L365.3 597.98 L366.3 597.98 L367.3 597.98 L368.3 597.98 L369.3 597.98 L370.3 597.98 L371.3 597.98 L372.3 597.98 L373.3 597.98 L374.3 597.98 L375.3 597.98 L376.3 597.98 L377.3 597.98 L378.3 597.98 L379.3 597.98 L380.3 597.98 L381.3 597.98 L382.3 597.98 L383.3 597.98 L384.3 597.98 L385.3 597.98 L386.3 597.98 L387.3 597.98 L388.3 597.98 L389.3 597.98 L390.3 597.98 L391.3 597.98 L392.3 597.98 L393.3 597.98 L394.3 597.98 L395.3 597.98 L396.3 597.98 L397.3 597.98 L398.3 597.98 L399.3 597.98 L400.3 597.98 L401.3 597.98 L402.3 597.98 L403.3 597.98 L404.3 597.98 L405.3 597.98 L406.3 597.98 L407.3 597.98 L408.3 597.98 L409.3 597.98 L410.3 597.98 L411.3 597.98 L412.3 597.98 L413.3 597.98 L414.3 597.98 L415.3 597.98 L416.3 597.98 L417.3 597.98 L418.3 597.98 L419.3 597.98 L420.3 597.98 L421.3 597.98 L422.3 597.98 L423.3 597.98 L424.3 597.98 L425.3 597.98 L426.3 597.98 L427.3 597.98 L428.3 597.98 L429.3 597.98 L430.3 597.98 L431.3 597.98 L432.3 597.98 L433.3 597.98 L434.3 597.98 L435.3 597.98 L436.3 597.98 L437.3 597.98 L438.3 597.98 L439.3 597.98 L440.3 597.98 L441.3 597.98 L442.3 597.98 L443.3 597.98 L444.3 597.98 L445.3 597.98 L446.3 597.98 L447.3 597.98 L448.3 597.98 L449.3 597.98 L450.3 597.98 L451.3 597.98 L452.3 597.98 L453.3 597.98 L454.3 597.98 L455.3 597.98 L456.3 597.98 L457.3 597.98 L458.3 597.98 L459.3 597.98 L460.3 597.98 L461.3 597.98 L462.3 597.98 L463.3 597.98 L464.3 597.98 L465.3 597.98 L466.3 597.98 L467.3 597.98 L468.3 597.98 L469.3 597.98 L470.3 597.98 L471.3 597.98 L472.3 597.98 L473.3 597.98 L474.3 597.98 L475.3 597.98 L476.3 597.98 L477.3 597.98 L478.3 597.98 L479.3 597.98 L480.3 597.98 L481.3 597.98 L482.3 597.98 L483.3 597.98 L484.3 597.98 L485.3 597.98 L486.3 597.98 L487.3 597.98 L488.3 597.98 L489.3 597.98 L490.3 597.98 L491.3 597.98 L492.3 597.98 L493.3 597.98 L494.3 597.98 L495.3 597.98 L496.3 597.98 L497.3 597.98 L498.3 597.98 L499.3 597.98 L500.3 597.98 L501.3 597.98 L502.3 597.98 L503.3 597.98 L504.3 597.98 L505.3 597.98 L506.3 597.98 L507.3 597.98 L508.3 597.97 L509.3 597.97 L510.3 597.96 L511.3 597.95 L512.3 597.93 L513.3 597.91 L514.3 597.88 L515.3 597.83 L516.3 597.77 L517.3 597.69 L518.3 597.6 L519.3 597.49 L520.3 597.37 L521.3 597.23 L522.3 597.09 L523.3 596.95 L524.3 596.82 L525.3 596.71 L526.3 596.64 L527.3 596.59 L528.3 596.58 L529.3 596.61 L530.3 596.68 L531.3 596.78 L532.3 596.9 L533.3 597.03 L534.3 597.17 L535.3 597.31 L536.3 597.44 L537.3 597.56 L538.3 597.66 L539.3 597.74 L540.3 597.81 L541.3 597.86 L542.3 597.9 L543.3 597.93 L544.3 597.95 L545.3 597.96 L546.3 597.97 L547.3 597.97 L548.3 597.98 L549.3 597.98 L550.3 597.98 L551.3 597.98 L552.3 597.98 L553.3 597.98 L554.3 597.98 L555.3 597.98 L556.3 597.98 L557.3 597.98 L558.3 597.98 L559.3 597.98 L560.3 597.98 L561.3 597.98 L562.3 597.98 L563.3 597.98 L564.3 597.98 L565.3 597.98 L566.3 597.98 L567.3 597.98 L568.3 597.98 L569.3 597.98 L570.3 597.98 L571.3 597.98 L572.3 597.98 L573.3 597.98 L574.3 597.98 L575.3 597.98 L576.3 597.98 L577.3 597.98 L578.3 597.98 L579.3 597.98 L580.3 597.98 L581.3 597.98 L582.3 597.98 L583.3 597.98 L584.3 597.98 L585.3 597.98 L586.3 597.98 L587.3 597.98 L588.3 597.98 L589.3 597.98 L590.3 597.98 L591.3 597.98 L592.3 597.98 L593.3 597.98 L594.3 597.98 L595.3 597.98 L596.3 597.98 L597.3 597.98 L598.3 597.98 L599.3 597.98 L600.3 597.98 L601.3 597.98 L602.3 597.98 L603.3 597.98 L604.3 597.98 L605.3 597.98 L606.3 597.98 L607.3 597.98 L608.3 597.98 L609.3 597.98 L610.3 597.98 L611.3 597.98 L612.3 597.98 L613.3 597.98 L614.3 597.98 L615.3 597.98 L616.3 597.98 L617.3 597.98 L618.3 597.98 L619.3 597.98 L620.3 597.98 L621.3 597.98 L622.3 597.98 L623.3 597.98 L624.3 597.98 L625.3 597.98 L626.3 597.98 L627.3 597.98 L628.3 597.98 L629.3 597.98 L630.3 597.98 L631.3 597.98 L632.3 597.98 L633.3 597.98 L634.3 597.98 L635.3 597.98 L636.3 597.98 L637.3 597.98 L638.3 597.98 L639.3 597.98 L640.3 597.98 L641.3 597.98 L642.3 597.98 L643.3 597.98 L644.3 597.98 L645.3 597.98 L646.3 597.98 L647.3 597.98 L648.3 597.98 L649.3 597.98 L650.3 597.98 L651 597.98" fill="none" stroke="#000" stroke-width="2.50" stroke-linejoin="round"/>
<line x1="239.5" y1="597.98" x2="254.5" y2="597.98" stroke="#000" stroke-width="2.50"/>
<line x1="513" y1="597.98" x2="543" y2="597.98" stroke="#000" stroke-width="2.50"/>
<path d="M11.3 670.16 L12.3 670.16 L13.3 670.16 L14.3 670.16 L15.3 670.16 L16.3 670.16 L17.3 670.16 L18.3 670.16 L19.3 670.16 L20.3 670.16 L21.3 670.16 L22.3 670.16 L23.3 670.16 L24.3 670.16 L25.3 670.16 L26.3 670.16 L27.3 670.16 L28.3 670.16 L29.3 670.16 L30.3 670.16 L31.3 670.16 L32.3 670.16 L33.3 670.16 L34.3 670.16 L35.3 670.16 L36.3 670.16 L37.3 670.16 L38.3 670.16 L39.3 670.16 L40.3 670.16 L41.3 670.16 L42.3 670.16 L43.3 670.16 L44.3 670.16 L45.3 670.16 L46.3 670.16 L47.3 670.16 L48.3 670.16 L49.3 670.16 L50.3 670.16 L51.3 670.16 L52.3 670.16 L53.3 670.16 L54.3 670.16 L55.3 670.16 L56.3 670.16 L57.3 670.16 L58.3 670.16 L59.3 670.16 L60.3 670.16 L61.3 670.16 L62.3 670.16 L63.3 670.16 L64.3 670.16 L65.3 670.16 L66.3 670.16 L67.3 670.16 L68.3 670.16 L69.3 670.16 L70.3 670.16 L71.3 670.16 L72.3 670.16 L73.3 670.16 L74.3 670.16 L75.3 670.16 L76.3 670.16 L77.3 670.16 L78.3 670.16 L79.3 670.16 L80.3 670.16 L81.3 670.16 L82.3 670.16 L83.3 670.16 L84.3 670.16 L85.3 670.16 L86.3 670.16 L87.3 670.16 L88.3 670.16 L89.3 670.16 L90.3 670.16 L91.3 670.16 L92.3 670.16 L93.3 670.16 L94.3 670.16 L95.3 670.16 L96.3 670.16 L97.3 670.16 L98.3 670.16 L99.3 670.16 L100.3 670.16 L101.3 670.16 L102.3 670.16 L103.3 670.16 L104.3 670.16 L105.3 670.16 L106.3 670.16 L107.3 670.16 L108.3 670.16 L109.3 670.16 L110.3 670.16 L111.3 670.16 L112.3 670.16 L113.3 670.16 L114.3 670.16 L115.3 670.16 L116.3 670.16 L117.3 670.16 L118.3 670.16 L119.3 670.16 L120.3 670.16 L121.3 670.16 L122.3 670.16 L123.3 670.16 L124.3 670.16 L125.3 670.16 L126.3 670.16 L127.3 670.16 L128.3 670.16 L129.3 670.16 L130.3 670.16 L131.3 670.16 L132.3 670.16 L133.3 670.16 L134.3 670.16 L135.3 670.16 L136.3 670.16 L137.3 670.16 L138.3 670.16 L139.3 670.16 L140.3 670.16 L141.3 670.16 L142.3 670.16 L143.3 670.16 L144.3 670.16 L145.3 670.16 L146.3 670.16 L147.3 670.16 L148.3 670.16 L149.3 670.16 L150.3 670.16 L151.3 670.16 L152.3 670.16 L153.3 670.16 L154.3 670.16 L155.3 670.16 L156.3 670.16 L157.3 670.16 L158.3 670.16 L159.3 670.16 L160.3 670.16 L161.3 670.16 L162.3 670.16 L163.3 670.16 L164.3 670.16 L165.3 670.16 L166.3 670.16 L167.3 670.16 L168.3 670.16 L169.3 670.16 L170.3 670.16 L171.3 670.16 L172.3 670.16 L173.3 670.16 L174.3 670.16 L175.3 670.16 L176.3 670.16 L177.3 670.16 L178.3 670.16 L179.3 670.16 L180.3 670.16 L181.3 670.16 L182.3 670.16 L183.3 670.16 L184.3 670.16 L185.3 670.16 L186.3 670.16 L187.3 670.16 L188.3 670.16 L189.3 670.16 L190.3 670.16 L191.3 670.16 L192.3 670.16 L193.3 670.16 L194.3 670.16 L195.3 670.16 L196.3 670.16 L197.3 670.16 L198.3 670.16 L199.3 670.16 L200.3 670.16 L201.3 670.16 L202.3 670.16 L203.3 670.16 L204.3 670.16 L205.3 670.16 L206.3 670.16 L207.3 670.16 L208.3 670.16 L209.3 670.16 L210.3 670.16 L211.3 670.16 L212.3 670.16 L213.3 670.16 L214.3 670.16 L215.3 670.16 L216.3 670.16 L217.3 670.16 L218.3 670.16 L219.3 670.16 L220.3 670.16 L221.3 670.16 L222.3 670.16 L223.3 670.16 L224.3 670.16 L225.3 670.16 L226.3 670.16 L227.3 670.16 L228.3 670.16 L229.3 670.16 L230.3 670.16 L231.3 670.16 L232.3 670.16 L233.3 670.16 L234.3 670.16 L235.3 670.16 L236.3 670.16 L237.3 670.16 L238.3 670.16 L239.3 670.16 L240.3 670.16 L241.3 670.16 L242.3 670.16 L243.3 670.15 L244.3 670.14 L245.3 670.11 L246.3 670.05 L247.3 669.95 L248.3 669.78 L249.3 669.55 L250.3 669.29 L251.3 669.05 L252.3 668.89 L253.3 668.87 L254.3 668.98 L255.3 669.19 L256.3 669.45 L257.3 669.69 L258.3 669.89 L259.3 670.02 L260.3 670.09 L261.3 670.13 L262.3 670.15 L263.3 670.16 L264.3 670.16 L265.3 670.16 L266.3 670.16 L267.3 670.16 L268.3 670.16 L269.3 670.16 L270.3 670.16 L271.3 670.16 L272.3 670.16 L273.3 670.16 L274.3 670.16 L275.3 670.16 L276.3 670.16 L277.3 670.16 L278.3 670.16 L279.3 670.16 L280.3 670.16 L281.3 670.16 L282.3 670.16 L283.3 670.16 L284.3 670.16 L285.3 670.16 L286.3 670.16 L287.3 670.16 L288.3 670.16 L289.3 670.16 L290.3 670.16 L291.3 670.16 L292.3 670.16 L293.3 670.16 L294.3 670.16 L295.3 670.16 L296.3 670.16 L297.3 670.16 L298.3 670.16 L299.3 670.16 L300.3 670.16 L301.3 670.16 L302.3 670.16 L303.3 670.16 L304.3 670.16 L305.3 670.16 L306.3 670.16 L307.3 670.16 L308.3 670.16 L309.3 670.16 L310.3 670.16 L311.3 670.16 L312.3 670.16 L313.3 670.16 L314.3 670.16 L315.3 670.16 L316.3 670.16 L317.3 670.16 L318.3 670.16 L319.3 670.16 L320.3 670.16 L321.3 670.16 L322.3 670.16 L323.3 670.16 L324.3 670.16 L325.3 670.16 L326.3 670.16 L327.3 670.16 L328.3 670.16 L329.3 670.16 L330.3 670.16 L331.3 670.16 L332.3 670.16 L333.3 670.16 L334.3 670.16 L335.3 670.16 L336.3 670.16 L337.3 670.16 L338.3 670.16 L339.3 670.16 L340.3 670.16 L341.3 670.16 L342.3 670.16 L343.3 670.16 L344.3 670.16 L345.3 670.16 L346.3 670.16 L347.3 670.16 L348.3 670.16 L349.3 670.16 L350.3 670.16 L351.3 670.16 L352.3 670.16 L353.3 670.16 L354.3 670.16 L355.3 670.16 L356.3 670.16 L357.3 670.16 L358.3 670.16 L359.3 670.16 L360.3 670.16 L361.3 670.16 L362.3 670.16 L363.3 670.16 L364.3 670.16 L365.3 670.15 L366.3 670.14 L367.3 670.1 L368.3 670.03 L369.3 669.9 L370.3 669.69 L371.3 669.41 L372.3 669.09 L373.3 668.8 L374.3 668.6 L375.3 668.57 L376.3 668.7 L377.3 668.97 L378.3 669.29 L379.3 669.59 L380.3 669.82 L381.3 669.98 L382.3 670.08 L383.3 670.13 L384.3 670.15 L385.3 670.16 L386.3 670.16 L387.3 670.16 L388.3 670.16 L389.3 670.16 L390.3 670.16 L391.3 670.16 L392.3 670.16 L393.3 670.16 L394.3 670.16 L395.3 670.16 L396.3 670.16 L397.3 670.16 L398.3 670.16 L399.3 670.16 L400.3 670.16 L401.3 670.16 L402.3 670.16 L403.3 670.16 L404.3 670.16 L405.3 670.16 L406.3 670.16 L407.3 670.16 L408.3 670.16 L409.3 670.16 L410.3 670.16 L411.3 670.16 L412.3 670.16 L413.3 670.16 L414.3 670.16 L415.3 670.16 L416.3 670.16 L417.3 670.16 L418.3 670.16 L419.3 670.16 L420.3 670.16 L421.3 670.16 L422.3 670.16 L423.3 670.16 L424.3 670.16 L425.3 670.16 L426.3 670.16 L427.3 670.16 L428.3 670.16 L429.3 670.16 L430.3 670.16 L431.3 670.16 L432.3 670.16 L433.3 670.16 L434.3 670.16 L435.3 670.16 L436.3 670.16 L437.3 670.16 L438.3 670.16 L439.3 670.16 L440.3 670.16 L441.3 670.16 L442.3 670.16 L443.3 670.16 L444.3 670.16 L445.3 670.16 L446.3 670.16 L447.3 670.16 L448.3 670.16 L449.3 670.16 L450.3 670.16 L451.3 670.16 L452.3 670.16 L453.3 670.16 L454.3 670.16 L455.3 670.16 L456.3 670.16 L457.3 670.16 L458.3 670.16 L459.3 670.16 L460.3 670.16 L461.3 670.16 L462.3 670.16 L463.3 670.16 L464.3 670.16 L465.3 670.16 L466.3 670.16 L467.3 670.16 L468.3 670.16 L469.3 670.16 L470.3 670.16 L471.3 670.16 L472.3 670.16 L473.3 670.16 L474.3 670.16 L475.3 670.16 L476.3 670.16 L477.3 670.16 L478.3 670.16 L479.3 670.16 L480.3 670.16 L481.3 670.16 L482.3 670.16 L483.3 670.16 L484.3 670.16 L485.3 670.16 L486.3 670.16 L487.3 670.16 L488.3 670.16 L489.3 670.16 L490.3 670.16 L491.3 670.16 L492.3 670.16 L493.3 670.16 L494.3 670.16 L495.3 670.16 L496.3 670.16 L497.3 670.16 L498.3 670.16 L499.3 670.16 L500.3 670.16 L501.3 670.16 L502.3 670.16 L503.3 670.16 L504.3 670.16 L505.3 670.16 L506.3 670.16 L507.3 670.16 L508.3 670.16 L509.3 670.16 L510.3 670.16 L511.3 670.16 L512.3 670.16 L513.3 670.16 L514.3 670.16 L515.3 670.16 L516.3 670.16 L517.3 670.16 L518.3 670.16 L519.3 670.16 L520.3 670.16 L521.3 670.16 L522.3 670.16 L523.3 670.16 L524.3 670.16 L525.3 670.16 L526.3 670.16 L527.3 670.16 L528.3 670.16 L529.3 670.16 L530.3 670.16 L531.3 670.16 L532.3 670.16 L533.3 670.16 L534.3 670.16 L535.3 670.16 L536.3 670.16 L537.3 670.16 L538.3 670.16 L539.3 670.16 L540.3 670.16 L541.3 670.16 L542.3 670.16 L543.3 670.16 L544.3 670.16 L545.3 670.16 L546.3 670.16 L547.3 670.16 L548.3 670.16 L549.3 670.16 L550.3 670.16 L551.3 670.16 L552.3 670.16 L553.3 670.16 L554.3 670.16 L555.3 670.16 L556.3 670.16 L557.3 670.15 L558.3 670.13 L559.3 670.1 L560.3 670.04 L561.3 669.95 L562.3 669.83 L563.3 669.69 L564.3 669.56 L565.3 669.48 L566.3 669.46 L567.3 669.52 L568.3 669.64 L569.3 669.78 L570.3 669.91 L571.3 670.01 L572.3 670.08 L573.3 670.12 L574.3 670.14 L575.3 670.15 L576.3 670.16 L577.3 670.16 L578.3 670.16 L579.3 670.16 L580.3 670.16 L581.3 670.16 L582.3 670.16 L583.3 670.16 L584.3 670.16 L585.3 670.16 L586.3 670.16 L587.3 670.16 L588.3 670.16 L589.3 670.16 L590.3 670.16 L591.3 670.16 L592.3 670.16 L593.3 670.16 L594.3 670.16 L595.3 670.16 L596.3 670.16 L597.3 670.16 L598.3 670.16 L599.3 670.16 L600.3 670.16 L601.3 670.16 L602.3 670.16 L603.3 670.16 L604.3 670.16 L605.3 670.16 L606.3 670.16 L607.3 670.16 L608.3 670.16 L609.3 670.16 L610.3 670.16 L611.3 670.16 L612.3 670.16 L613.3 670.16 L614.3 670.16 L615.3 670.16 L616.3 670.16 L617.3 670.16 L618.3 670.16 L619.3 670.16 L620.3 670.16 L621.3 670.16 L622.3 670.16 L623.3 670.16 L624.3 670.16 L625.3 670.16 L626.3 670.16 L627.3 670.16 L628.3 670.16 L629.3 670.16 L630.3 670.16 L631.3 670.16 L632.3 670.16 L633.3 670.16 L634.3 670.16 L635.3 670.16 L636.3 670.16 L637.3 670.16 L638.3 670.16 L639.3 670.16 L640.3 670.16 L641.3 670.16 L642.3 670.16 L643.3 670.16 L644.3 670.16 L645.3 670.16 L646.3 670.16 L647.3 670.16 L648.3 670.16 L649.3 670.16 L650.3 670.16 L651 670.16" fill="none" stroke="#000" stroke-width="2.50" stroke-linejoin="round"/>
<line x1="245.5" y1="670.16" x2="260.5" y2="670.16" stroke="#000" stroke-width="2.50"/>
<line x1="367.5" y1="670.16" x2="382.5" y2="670.16" stroke="#000" stroke-width="2.50"/>
<line x1="558.5" y1="670.16" x2="573.5" y2="670.16" stroke="#000" stroke-width="2.50"/>
<path d="M11.3 742.34 L12.3 742.34 L13.3 742.34 L14.3 742.34 L15.3 742.34 L16.3 742.34 L17.3 742.34 L18.3 742.34 L19.3 742.34 L20.3 742.34 L21.3 742.34 L22.3 742.34 L23.3 742.34 L24.3 742.34 L25.3 742.34 L26.3 742.34 L27.3 742.34 L28.3 742.34 L29.3 742.34 L30.3 742.34 L31.3 742.34 L32.3 742.34 L33.3 742.34 L34.3 742.34 L35.3 742.34 L36.3 742.34 L37.3 742.34 L38.3 742.34 L39.3 742.34 L40.3 742.34 L41.3 742.34 L42.3 742.34 L43.3 742.34 L44.3 742.34 L45.3 742.34 L46.3 742.34 L47.3 742.34 L48.3 742.34 L49.3 742.34 L50.3 742.34 L51.3 742.34 L52.3 742.34 L53.3 742.34 L54.3 742.34 L55.3 742.34 L56.3 742.34 L57.3 742.34 L58.3 742.34 L59.3 742.34 L60.3 742.34 L61.3 742.34 L62.3 742.34 L63.3 742.34 L64.3 742.34 L65.3 742.34 L66.3 742.34 L67.3 742.34 L68.3 742.34 L69.3 742.34 L70.3 742.34 L71.3 742.34 L72.3 742.34 L73.3 742.34 L74.3 742.34 L75.3 742.34 L76.3 742.34 L77.3 742.34 L78.3 742.34 L79.3 742.34 L80.3 742.34 L81.3 742.34 L82.3 742.34 L83.3 742.34 L84.3 742.34 L85.3 742.34 L86.3 742.34 L87.3 742.34 L88.3 742.34 L89.3 742.34 L90.3 742.34 L91.3 742.34 L92.3 742.34 L93.3 742.34 L94.3 742.34 L95.3 742.34 L96.3 742.34 L97.3 742.34 L98.3 742.34 L99.3 742.34 L100.3 742.34 L101.3 742.34 L102.3 742.34 L103.3 742.34 L104.3 742.34 L105.3 742.34 L106.3 742.34 L107.3 742.34 L108.3 742.34 L109.3 742.34 L110.3 742.34 L111.3 742.34 L112.3 742.34 L113.3 742.34 L114.3 742.34 L115.3 742.34 L116.3 742.34 L117.3 742.34 L118.3 742.34 L119.3 742.34 L120.3 742.34 L121.3 742.34 L122.3 742.34 L123.3 742.34 L124.3 742.34 L125.3 742.34 L126.3 742.34 L127.3 742.34 L128.3 742.34 L129.3 742.34 L130.3 742.34 L131.3 742.34 L132.3 742.34 L133.3 742.34 L134.3 742.34 L135.3 742.34 L136.3 742.34 L137.3 742.34 L138.3 742.34 L139.3 742.34 L140.3 742.34 L141.3 742.34 L142.3 742.34 L143.3 742.34 L144.3 742.34 L145.3 742.34 L146.3 742.34 L147.3 742.34 L148.3 742.34 L149.3 742.34 L150.3 742.34 L151.3 742.34 L152.3 742.34 L153.3 742.34 L154.3 742.34 L155.3 742.34 L156.3 742.34 L157.3 742.34 L158.3 742.34 L159.3 742.34 L160.3 742.34 L161.3 742.34 L162.3 742.34 L163.3 742.34 L164.3 742.34 L165.3 742.34 L166.3 742.34 L167.3 742.34 L168.3 742.34 L169.3 742.34 L170.3 742.34 L171.3 742.34 L172.3 742.34 L173.3 742.34 L174.3 742.34 L175.3 742.34 L176.3 742.34 L177.3 742.34 L178.3 742.34 L179.3 742.34 L180.3 742.34 L181.3 742.34 L182.3 742.34 L183.3 742.34 L184.3 742.34 L185.3 742.34 L186.3 742.34 L187.3 742.34 L188.3 742.34 L189.3 742.34 L190.3 742.34 L191.3 742.34 L192.3 742.34 L193.3 742.34 L194.3 742.34 L195.3 742.34 L196.3 742.34 L197.3 742.34 L198.3 742.34 L199.3 742.34 L200.3 742.34 L201.3 742.34 L202.3 742.34 L203.3 742.34 L204.3 742.34 L205.3 742.34 L206.3 742.34 L207.3 742.34 L208.3 742.34 L209.3 742.34 L210.3 742.34 L211.3 742.34 L212.3 742.34 L213.3 742.34 L214.3 742.34 L215.3 742.34 L216.3 742.34 L217.3 742.34 L218.3 742.34 L219.3 742.34 L220.3 742.34 L221.3 742.34 L222.3 742.34 L223.3 742.34 L224.3 742.34 L225.3 742.34 L226.3 742.34 L227.3 742.34 L228.3 742.34 L229.3 742.34 L230.3 742.34 L231.3 742.34 L232.3 742.34 L233.3 742.34 L234.3 742.34 L235.3 742.34 L236.3 742.34 L237.3 742.34 L238.3 742.34 L239.3 742.34 L240.3 742.34 L241.3 742.34 L242.3 742.34 L243.3 742.33 L244.3 742.32 L245.3 742.3 L246.3 742.24 L247.3 742.14 L248.3 741.99 L249.3 741.78 L250.3 741.54 L251.3 741.32 L252.3 741.17 L253.3 741.15 L254.3 741.25 L255.3 741.45 L256.3 741.68 L257.3 741.91 L258.3 742.09 L259.3 742.21 L260.3 742.28 L261.3 742.31 L262.3 742.33 L263.3 742.34 L264.3 742.34 L265.3 742.34 L266.3 742.34 L267.3 742.34 L268.3 742.34 L269.3 742.34 L270.3 742.34 L271.3 742.34 L272.3 742.34 L273.3 742.34 L274.3 742.34 L275.3 742.34 L276.3 742.34 L277.3 742.34 L278.3 742.34 L279.3 742.34 L280.3 742.34 L281.3 742.34 L282.3 742.34 L283.3 742.34 L284.3 742.34 L285.3 742.34 L286.3 742.34 L287.3 742.34 L288.3 742.34 L289.3 742.34 L290.3 742.34 L291.3 742.34 L292.3 742.34 L293.3 742.34 L294.3 742.34 L295.3 742.34 L296.3 742.34 L297.3 742.34 L298.3 742.34 L299.3 742.34 L300.3 742.34 L301.3 742.34 L302.3 742.34 L303.3 742.34 L304.3 742.34 L305.3 742.34 L306.3 742.34 L307.3 742.34 L308.3 742.34 L309.3 742.34 L310.3 742.34 L311.3 742.34 L312.3 742.34 L313.3 742.34 L314.3 742.34 L315.3 742.34 L316.3 742.34 L317.3 742.34 L318.3 742.34 L319.3 742.34 L320.3 742.34 L321.3 742.34 L322.3 742.34 L323.3 742.34 L324.3 742.34 L325.3 742.34 L326.3 742.34 L327.3 742.34 L328.3 742.34 L329.3 742.34 L330.3 742.34 L331.3 742.34 L332.3 742.34 L333.3 742.34 L334.3 742.34 L335.3 742.34 L336.3 742.34 L337.3 742.34 L338.3 742.34 L339.3 742.34 L340.3 742.34 L341.3 742.34 L342.3 742.34 L343.3 742.34 L344.3 742.34 L345.3 742.34 L346.3 742.34 L347.3 742.34 L348.3 742.34 L349.3 742.34 L350.3 742.34 L351.3 742.34 L352.3 742.34 L353.3 742.34 L354.3 742.34 L355.3 742.34 L356.3 742.34 L357.3 742.34 L358.3 742.34 L359.3 742.34 L360.3 742.34 L361.3 742.34 L362.3 742.34 L363.3 742.34 L364.3 742.34 L365.3 742.34 L366.3 742.34 L367.3 742.34 L368.3 742.34 L369.3 742.34 L370.3 742.34 L371.3 742.34 L372.3 742.34 L373.3 742.34 L374.3 742.34 L375.3 742.34 L376.3 742.34 L377.3 742.34 L378.3 742.34 L379.3 742.34 L380.3 742.34 L381.3 742.34 L382.3 742.34 L383.3 742.34 L384.3 742.34 L385.3 742.34 L386.3 742.34 L387.3 742.34 L388.3 742.34 L389.3 742.34 L390.3 742.34 L391.3 742.34 L392.3 742.34 L393.3 742.34 L394.3 742.34 L395.3 742.34 L396.3 742.34 L397.3 742.34 L398.3 742.34 L399.3 742.34 L400.3 742.34 L401.3 742.34 L402.3 742.34 L403.3 742.34 L404.3 742.34 L405.3 742.34 L406.3 742.34 L407.3 742.34 L408.3 742.34 L409.3 742.34 L410.3 742.34 L411.3 742.34 L412.3 742.34 L413.3 742.34 L414.3 742.34 L415.3 742.34 L416.3 742.34 L417.3 742.34 L418.3 742.34 L419.3 742.34 L420.3 742.34 L421.3 742.34 L422.3 742.34 L423.3 742.34 L424.3 742.34 L425.3 742.34 L426.3 742.34 L427.3 742.34 L428.3 742.34 L429.3 742.34 L430.3 742.34 L431.3 742.34 L432.3 742.34 L433.3 742.34 L434.3 742.34 L435.3 742.34 L436.3 742.34 L437.3 742.34 L438.3 742.34 L439.3 742.34 L440.3 742.34 L441.3 742.34 L442.3 742.34 L443.3 742.34 L444.3 742.34 L445.3 742.34 L446.3 742.34 L447.3 742.34 L448.3 742.34 L449.3 742.34 L450.3 742.34 L451.3 742.34 L452.3 742.34 L453.3 742.34 L454.3 742.34 L455.3 742.34 L456.3 742.34 L457.3 742.34 L458.3 742.34 L459.3 742.34 L460.3 742.34 L461.3 742.34 L462.3 742.34 L463.3 742.34 L464.3 742.34 L465.3 742.34 L466.3 742.34 L467.3 742.34 L468.3 742.34 L469.3 742.34 L470.3 742.34 L471.3 742.34 L472.3 742.34 L473.3 742.34 L474.3 742.34 L475.3 742.34 L476.3 742.34 L477.3 742.34 L478.3 742.34 L479.3 742.34 L480.3 742.34 L481.3 742.34 L482.3 742.34 L483.3 742.34 L484.3 742.34 L485.3 742.34 L486.3 742.34 L487.3 742.34 L488.3 742.34 L489.3 742.34 L490.3 742.34 L491.3 742.34 L492.3 742.34 L493.3 742.34 L494.3 742.34 L495.3 742.34 L496.3 742.34 L497.3 742.34 L498.3 742.34 L499.3 742.34 L500.3 742.34 L501.3 742.34 L502.3 742.34 L503.3 742.34 L504.3 742.34 L505.3 742.34 L506.3 742.34 L507.3 742.34 L508.3 742.34 L509.3 742.34 L510.3 742.34 L511.3 742.34 L512.3 742.34 L513.3 742.34 L514.3 742.34 L515.3 742.34 L516.3 742.34 L517.3 742.34 L518.3 742.34 L519.3 742.34 L520.3 742.34 L521.3 742.34 L522.3 742.34 L523.3 742.34 L524.3 742.34 L525.3 742.34 L526.3 742.34 L527.3 742.34 L528.3 742.34 L529.3 742.34 L530.3 742.34 L531.3 742.34 L532.3 742.34 L533.3 742.34 L534.3 742.34 L535.3 742.34 L536.3 742.34 L537.3 742.34 L538.3 742.34 L539.3 742.34 L540.3 742.34 L541.3 742.34 L542.3 742.34 L543.3 742.34 L544.3 742.34 L545.3 742.34 L546.3 742.34 L547.3 742.34 L548.3 742.34 L549.3 742.34 L550.3 742.34 L551.3 742.34 L552.3 742.34 L553.3 742.34 L554.3 742.34 L555.3 742.34 L556.3 742.34 L557.3 742.34 L558.3 742.34 L559.3 742.34 L560.3 742.34 L561.3 742.34 L562.3 742.34 L563.3 742.34 L564.3 742.34 L565.3 742.34 L566.3 742.34 L567.3 742.34 L568.3 742.34 L569.3 742.34 L570.3 742.34 L571.3 742.34 L572.3 742.34 L573.3 742.34 L574.3 742.34 L575.3 742.34 L576.3 742.34 L577.3 742.34 L578.3 742.34 L579.3 742.34 L580.3 742.34 L581.3 742.34 L582.3 742.34 L583.3 742.34 L584.3 742.34 L585.3 742.34 L586.3 742.34 L587.3 742.34 L588.3 742.34 L589.3 742.34 L590.3 742.34 L591.3 742.34 L592.3 742.34 L593.3 742.34 L594.3 742.34 L595.3 742.34 L596.3 742.34 L597.3 742.34 L598.3 742.34 L599.3 742.34 L600.3 742.34 L601.3 742.34 L602.3 742.34 L603.3 742.34 L604.3 742.34 L605.3 742.34 L606.3 742.34 L607.3 742.34 L608.3 742.34 L609.3 742.34 L610.3 742.34 L611.3 742.34 L612.3 742.34 L613.3 742.34 L614.3 742.34 L615.3 742.34 L616.3 742.34 L617.3 742.34 L618.3 742.34 L619.3 742.34 L620.3 742.34 L621.3 742.34 L622.3 742.34 L623.3 742.34 L624.3 742.34 L625.3 742.34 L626.3 742.34 L627.3 742.34 L628.3 742.34 L629.3 742.34 L630.3 742.34 L631.3 742.34 L632.3 742.34 L633.3 742.34 L634.3 742.34 L635.3 742.34 L636.3 742.34 L637.3 742.34 L638.3 742.34 L639.3 742.34 L640.3 742.34 L641.3 742.34 L642.3 742.34 L643.3 742.34 L644.3 742.34 L645.3 742.34 L646.3 742.34 L647.3 742.34 L648.3 742.34 L649.3 742.34 L650.3 742.34 L651 742.34" fill="none" stroke="#000" stroke-width="2.50" stroke-linejoin="round"/>
<line x1="245.5" y1="742.34" x2="260.5" y2="742.34" stroke="#000" stroke-width="2.50"/>
<path d="M11.3 814.52 L12.3 814.52 L13.3 814.52 L14.3 814.52 L15.3 814.52 L16.3 814.52 L17.3 814.52 L18.3 814.52 L19.3 814.52 L20.3 814.52 L21.3 814.52 L22.3 814.52 L23.3 814.52 L24.3 814.52 L25.3 814.52 L26.3 814.52 L27.3 814.52 L28.3 814.52 L29.3 814.52 L30.3 814.52 L31.3 814.52 L32.3 814.52 L33.3 814.52 L34.3 814.52 L35.3 814.52 L36.3 814.52 L37.3 814.52 L38.3 814.52 L39.3 814.52 L40.3 814.52 L41.3 814.52 L42.3 814.52 L43.3 814.52 L44.3 814.52 L45.3 814.52 L46.3 814.52 L47.3 814.52 L48.3 814.52 L49.3 814.52 L50.3 814.52 L51.3 814.52 L52.3 814.52 L53.3 814.52 L54.3 814.52 L55.3 814.52 L56.3 814.52 L57.3 814.52 L58.3 814.52 L59.3 814.52 L60.3 814.52 L61.3 814.52 L62.3 814.52 L63.3 814.52 L64.3 814.52 L65.3 814.52 L66.3 814.52 L67.3 814.52 L68.3 814.52 L69.3 814.52 L70.3 814.52 L71.3 814.52 L72.3 814.52 L73.3 814.52 L74.3 814.52 L75.3 814.52 L76.3 814.52 L77.3 814.52 L78.3 814.52 L79.3 814.52 L80.3 814.52 L81.3 814.52 L82.3 814.52 L83.3 814.52 L84.3 814.52 L85.3 814.52 L86.3 814.52 L87.3 814.52 L88.3 814.52 L89.3 814.52 L90.3 814.52 L91.3 814.52 L92.3 814.52 L93.3 814.52 L94.3 814.52 L95.3 814.52 L96.3 814.52 L97.3 814.52 L98.3 814.52 L99.3 814.52 L100.3 814.52 L101.3 814.52 L102.3 814.52 L103.3 814.52 L104.3 814.52 L105.3 814.52 L106.3 814.52 L107.3 814.52 L108.3 814.52 L109.3 814.52 L110.3 814.52 L111.3 814.52 L112.3 814.52 L113.3 814.52 L114.3 814.52 L115.3 814.52 L116.3 814.52 L117.3 814.52 L118.3 814.52 L119.3 814.52 L120.3 814.52 L121.3 814.52 L122.3 814.52 L123.3 814.52 L124.3 814.52 L125.3 814.52 L126.3 814.52 L127.3 814.52 L128.3 814.52 L129.3 814.52 L130.3 814.52 L131.3 814.52 L132.3 814.52 L133.3 814.52 L134.3 814.52 L135.3 814.52 L136.3 814.52 L137.3 814.52 L138.3 814.52 L139.3 814.52 L140.3 814.52 L141.3 814.52 L142.3 814.52 L143.3 814.52 L144.3 814.52 L145.3 814.52 L146.3 814.52 L147.3 814.52 L148.3 814.52 L149.3 814.52 L150.3 814.52 L151.3 814.52 L152.3 814.52 L153.3 814.52 L154.3 814.52 L155.3 814.52 L156.3 814.52 L157.3 814.52 L158.3 814.52 L159.3 814.52 L160.3 814.52 L161.3 814.52 L162.3 814.52 L163.3 814.52 L164.3 814.52 L165.3 814.52 L166.3 814.52 L167.3 814.52 L168.3 814.52 L169.3 814.52 L170.3 814.52 L171.3 814.52 L172.3 814.52 L173.3 814.52 L174.3 814.52 L175.3 814.52 L176.3 814.52 L177.3 814.52 L178.3 814.52 L179.3 814.52 L180.3 814.52 L181.3 814.52 L182.3 814.52 L183.3 814.52 L184.3 814.52 L185.3 814.52 L186.3 814.52 L187.3 814.52 L188.3 814.52 L189.3 814.52 L190.3 814.52 L191.3 814.52 L192.3 814.52 L193.3 814.52 L194.3 814.52 L195.3 814.52 L196.3 814.52 L197.3 814.52 L198.3 814.52 L199.3 814.52 L200.3 814.52 L201.3 814.52 L202.3 814.52 L203.3 814.52 L204.3 814.52 L205.3 814.52 L206.3 814.52 L207.3 814.52 L208.3 814.52 L209.3 814.52 L210.3 814.52 L211.3 814.52 L212.3 814.52 L213.3 814.52 L214.3 814.52 L215.3 814.52 L216.3 814.52 L217.3 814.52 L218.3 814.52 L219.3 814.52 L220.3 814.52 L221.3 814.52 L222.3 814.52 L223.3 814.52 L224.3 814.52 L225.3 814.52 L226.3 814.52 L227.3 814.52 L228.3 814.52 L229.3 814.52 L230.3 814.52 L231.3 814.52 L232.3 814.52 L233.3 814.52 L234.3 814.52 L235.3 814.52 L236.3 814.52 L237.3 814.52 L238.3 814.52 L239.3 814.52 L240.3 814.52 L241.3 814.52 L242.3 814.52 L243.3 814.52 L244.3 814.52 L245.3 814.52 L246.3 814.52 L247.3 814.52 L248.3 814.52 L249.3 814.52 L250.3 814.52 L251.3 814.52 L252.3 814.52 L253.3 814.52 L254.3 814.52 L255.3 814.52 L256.3 814.52 L257.3 814.52 L258.3 814.52 L259.3 814.52 L260.3 814.52 L261.3 814.52 L262.3 814.52 L263.3 814.52 L264.3 814.52 L265.3 814.52 L266.3 814.52 L267.3 814.52 L268.3 814.52 L269.3 814.52 L270.3 814.52 L271.3 814.52 L272.3 814.52 L273.3 814.52 L274.3 814.52 L275.3 814.52 L276.3 814.52 L277.3 814.52 L278.3 814.52 L279.3 814.52 L280.3 814.52 L281.3 814.52 L282.3 814.52 L283.3 814.52 L284.3 814.52 L285.3 814.52 L286.3 814.52 L287.3 814.52 L288.3 814.52 L289.3 814.52 L290.3 814.52 L291.3 814.52 L292.3 814.52 L293.3 814.52 L294.3 814.52 L295.3 814.52 L296.3 814.52 L297.3 814.52 L298.3 814.52 L299.3 814.52 L300.3 814.52 L301.3 814.52 L302.3 814.52 L303.3 814.52 L304.3 814.52 L305.3 814.52 L306.3 814.52 L307.3 814.52 L308.3 814.52 L309.3 814.52 L310.3 814.52 L311.3 814.52 L312.3 814.52 L313.3 814.52 L314.3 814.52 L315.3 814.51 L316.3 814.49 L317.3 814.45 L318.3 814.35 L319.3 814.19 L320.3 813.93 L321.3 813.59 L322.3 813.19 L323.3 812.82 L324.3 812.57 L325.3 812.53 L326.3 812.7 L327.3 813.03 L328.3 813.43 L329.3 813.8 L330.3 814.1 L331.3 814.3 L332.3 814.42 L333.3 814.48 L334.3 814.5 L335.3 814.51 L336.3 814.52 L337.3 814.52 L338.3 814.52 L339.3 814.52 L340.3 814.52 L341.3 814.52 L342.3 814.52 L343.3 814.52 L344.3 814.52 L345.3 814.52 L346.3 814.52 L347.3 814.52 L348.3 814.52 L349.3 814.52 L350.3 814.52 L351.3 814.52 L352.3 814.52 L353.3 814.52 L354.3 814.52 L355.3 814.52 L356.3 814.52 L357.3 814.52 L358.3 814.52 L359.3 814.52 L360.3 814.52 L361.3 814.52 L362.3 814.52 L363.3 814.52 L364.3 814.52 L365.3 814.52 L366.3 814.52 L367.3 814.52 L368.3 814.52 L369.3 814.52 L370.3 814.52 L371.3 814.52 L372.3 814.52 L373.3 814.52 L374.3 814.52 L375.3 814.52 L376.3 814.52 L377.3 814.52 L378.3 814.52 L379.3 814.52 L380.3 814.52 L381.3 814.52 L382.3 814.52 L383.3 814.52 L384.3 814.52 L385.3 814.52 L386.3 814.52 L387.3 814.52 L388.3 814.52 L389.3 814.52 L390.3 814.52 L391.3 814.52 L392.3 814.52 L393.3 814.52 L394.3 814.52 L395.3 814.52 L396.3 814.52 L397.3 814.52 L398.3 814.52 L399.3 814.52 L400.3 814.52 L401.3 814.52 L402.3 814.52 L403.3 814.52 L404.3 814.52 L405.3 814.52 L406.3 814.52 L407.3 814.52 L408.3 814.52 L409.3 814.52 L410.3 814.52 L411.3 814.52 L412.3 814.52 L413.3 814.52 L414.3 814.52 L415.3 814.52 L416.3 814.52 L417.3 814.52 L418.3 814.52 L419.3 814.52 L420.3 814.52 L421.3 814.52 L422.3 814.52 L423.3 814.52 L424.3 814.52 L425.3 814.52 L426.3 814.52 L427.3 814.52 L428.3 814.52 L429.3 814.52 L430.3 814.52 L431.3 814.52 L432.3 814.52 L433.3 814.52 L434.3 814.52 L435.3 814.52 L436.3 814.52 L437.3 814.52 L438.3 814.52 L439.3 814.52 L440.3 814.52 L441.3 814.52 L442.3 814.52 L443.3 814.52 L444.3 814.52 L445.3 814.52 L446.3 814.52 L447.3 814.52 L448.3 814.52 L449.3 814.52 L450.3 814.52 L451.3 814.52 L452.3 814.52 L453.3 814.52 L454.3 814.52 L455.3 814.52 L456.3 814.52 L457.3 814.52 L458.3 814.52 L459.3 814.52 L460.3 814.52 L461.3 814.52 L462.3 814.52 L463.3 814.52 L464.3 814.52 L465.3 814.52 L466.3 814.52 L467.3 814.52 L468.3 814.52 L469.3 814.52 L470.3 814.52 L471.3 814.52 L472.3 814.52 L473.3 814.52 L474.3 814.52 L475.3 814.52 L476.3 814.52 L477.3 814.52 L478.3 814.52 L479.3 814.52 L480.3 814.52 L481.3 814.52 L482.3 814.52 L483.3 814.52 L484.3 814.52 L485.3 814.52 L486.3 814.52 L487.3 814.52 L488.3 814.52 L489.3 814.52 L490.3 814.52 L491.3 814.52 L492.3 814.52 L493.3 814.52 L494.3 814.52 L495.3 814.52 L496.3 814.52 L497.3 814.52 L498.3 814.52 L499.3 814.52 L500.3 814.52 L501.3 814.52 L502.3 814.52 L503.3 814.52 L504.3 814.52 L505.3 814.52 L506.3 814.52 L507.3 814.52 L508.3 814.52 L509.3 814.52 L510.3 814.52 L511.3 814.52 L512.3 814.52 L513.3 814.52 L514.3 814.52 L515.3 814.52 L516.3 814.52 L517.3 814.52 L518.3 814.52 L519.3 814.52 L520.3 814.52 L521.3 814.52 L522.3 814.52 L523.3 814.52 L524.3 814.52 L525.3 814.52 L526.3 814.52 L527.3 814.52 L528.3 814.52 L529.3 814.52 L530.3 814.52 L531.3 814.52 L532.3 814.52 L533.3 814.52 L534.3 814.52 L535.3 814.52 L536.3 814.52 L537.3 814.52 L538.3 814.52 L539.3 814.52 L540.3 814.52 L541.3 814.52 L542.3 814.52 L543.3 814.52 L544.3 814.52 L545.3 814.52 L546.3 814.52 L547.3 814.52 L548.3 814.52 L549.3 814.52 L550.3 814.52 L551.3 814.52 L552.3 814.52 L553.3 814.52 L554.3 814.52 L555.3 814.52 L556.3 814.52 L557.3 814.52 L558.3 814.52 L559.3 814.52 L560.3 814.52 L561.3 814.52 L562.3 814.52 L563.3 814.52 L564.3 814.52 L565.3 814.52 L566.3 814.52 L567.3 814.52 L568.3 814.52 L569.3 814.52 L570.3 814.52 L571.3 814.52 L572.3 814.52 L573.3 814.52 L574.3 814.52 L575.3 814.52 L576.3 814.52 L577.3 814.52 L578.3 814.52 L579.3 814.52 L580.3 814.52 L581.3 814.52 L582.3 814.52 L583.3 814.52 L584.3 814.52 L585.3 814.52 L586.3 814.52 L587.3 814.52 L588.3 814.52 L589.3 814.52 L590.3 814.52 L591.3 814.52 L592.3 814.52 L593.3 814.52 L594.3 814.52 L595.3 814.52 L596.3 814.52 L597.3 814.52 L598.3 814.52 L599.3 814.52 L600.3 814.52 L601.3 814.52 L602.3 814.52 L603.3 814.52 L604.3 814.52 L605.3 814.52 L606.3 814.52 L607.3 814.52 L608.3 814.52 L609.3 814.52 L610.3 814.52 L611.3 814.52 L612.3 814.52 L613.3 814.52 L614.3 814.52 L615.3 814.52 L616.3 814.52 L617.3 814.52 L618.3 814.52 L619.3 814.52 L620.3 814.52 L621.3 814.52 L622.3 814.52 L623.3 814.52 L624.3 814.52 L625.3 814.52 L626.3 814.52 L627.3 814.52 L628.3 814.52 L629.3 814.52 L630.3 814.52 L631.3 814.52 L632.3 814.52 L633.3 814.52 L634.3 814.52 L635.3 814.52 L636.3 814.52 L637.3 814.52 L638.3 814.52 L639.3 814.52 L640.3 814.52 L641.3 814.52 L642.3 814.52 L643.3 814.52 L644.3 814.52 L645.3 814.52 L646.3 814.52 L647.3 814.52 L648.3 814.52 L649.3 814.52 L650.3 814.52 L651 814.52" fill="none" stroke="#000" stroke-width="2.50" stroke-linejoin="round"/>
<line x1="317.5" y1="814.52" x2="332.5" y2="814.52" stroke="#000" stroke-width="2.50"/>
<path d="M11.3 886.7 L12.3 886.7 L13.3 886.7 L14.3 886.7 L15.3 886.7 L16.3 886.7 L17.3 886.7 L18.3 886.7 L19.3 886.7 L20.3 886.7 L21.3 886.7 L22.3 886.7 L23.3 886.7 L24.3 886.7 L25.3 886.7 L26.3 886.7 L27.3 886.7 L28.3 886.7 L29.3 886.7 L30.3 886.7 L31.3 886.7 L32.3 886.7 L33.3 886.7 L34.3 886.7 L35.3 886.7 L36.3 886.7 L37.3 886.7 L38.3 886.7 L39.3 886.7 L40.3 886.7 L41.3 886.7 L42.3 886.7 L43.3 886.7 L44.3 886.7 L45.3 886.7 L46.3 886.7 L47.3 886.7 L48.3 886.7 L49.3 886.7 L50.3 886.7 L51.3 886.7 L52.3 886.7 L53.3 886.7 L54.3 886.7 L55.3 886.7 L56.3 886.7 L57.3 886.7 L58.3 886.7 L59.3 886.7 L60.3 886.7 L61.3 886.7 L62.3 886.7 L63.3 886.7 L64.3 886.7 L65.3 886.7 L66.3 886.7 L67.3 886.7 L68.3 886.7 L69.3 886.7 L70.3 886.7 L71.3 886.7 L72.3 886.7 L73.3 886.7 L74.3 886.7 L75.3 886.7 L76.3 886.7 L77.3 886.7 L78.3 886.7 L79.3 886.7 L80.3 886.7 L81.3 886.7 L82.3 886.7 L83.3 886.7 L84.3 886.7 L85.3 886.7 L86.3 886.7 L87.3 886.7 L88.3 886.7 L89.3 886.7 L90.3 886.7 L91.3 886.7 L92.3 886.7 L93.3 886.7 L94.3 886.7 L95.3 886.7 L96.3 886.7 L97.3 886.7 L98.3 886.7 L99.3 886.7 L100.3 886.7 L101.3 886.7 L102.3 886.7 L103.3 886.7 L104.3 886.7 L105.3 886.7 L106.3 886.7 L107.3 886.7 L108.3 886.7 L109.3 886.7 L110.3 886.7 L111.3 886.7 L112.3 886.7 L113.3 886.7 L114.3 886.7 L115.3 886.7 L116.3 886.7 L117.3 886.7 L118.3 886.69 L119.3 886.69 L120.3 886.67 L121.3 886.63 L122.3 886.57 L123.3 886.46 L124.3 886.3 L125.3 886.09 L126.3 885.84 L127.3 885.59 L128.3 885.37 L129.3 885.23 L130.3 885.21 L131.3 885.3 L132.3 885.49 L133.3 885.74 L134.3 885.99 L135.3 886.22 L136.3 886.4 L137.3 886.53 L138.3 886.61 L139.3 886.66 L140.3 886.68 L141.3 886.69 L142.3 886.7 L143.3 886.7 L144.3 886.7 L145.3 886.7 L146.3 886.7 L147.3 886.7 L148.3 886.7 L149.3 886.7 L150.3 886.7 L151.3 886.7 L152.3 886.7 L153.3 886.7 L154.3 886.7 L155.3 886.7 L156.3 886.7 L157.3 886.7 L158.3 886.7 L159.3 886.7 L160.3 886.7 L161.3 886.7 L162.3 886.7 L163.3 886.7 L164.3 886.7 L165.3 886.7 L166.3 886.7 L167.3 886.7 L168.3 886.7 L169.3 886.7 L170.3 886.7 L171.3 886.7 L172.3 886.7 L173.3 886.7 L174.3 886.7 L175.3 886.7 L176.3 886.7 L177.3 886.7 L178.3 886.7 L179.3 886.69 L180.3 886.68 L181.3 886.65 L182.3 886.6 L183.3 886.52 L184.3 886.42 L185.3 886.3 L186.3 886.19 L187.3 886.12 L188.3 886.1 L189.3 886.15 L190.3 886.25 L191.3 886.37 L192.3 886.49 L193.3 886.57 L194.3 886.63 L195.3 886.67 L196.3 886.69 L197.3 886.7 L198.3 886.7 L199.3 886.7 L200.3 886.7 L201.3 886.7 L202.3 886.7 L203.3 886.7 L204.3 886.7 L205.3 886.7 L206.3 886.7 L207.3 886.7 L208.3 886.7 L209.3 886.7 L210.3 886.7 L211.3 886.7 L212.3 886.7 L213.3 886.7 L214.3 886.7 L215.3 886.7 L216.3 886.7 L217.3 886.7 L218.3 886.7 L219.3 886.7 L220.3 886.7 L221.3 886.7 L222.3 886.7 L223.3 886.7 L224.3 886.7 L225.3 886.7 L226.3 886.7 L227.3 886.7 L228.3 886.7 L229.3 886.7 L230.3 886.7 L231.3 886.7 L232.3 886.7 L233.3 886.7 L234.3 886.7 L235.3 886.7 L236.3 886.7 L237.3 886.7 L238.3 886.7 L239.3 886.7 L240.3 886.7 L241.3 886.7 L242.3 886.7 L243.3 886.7 L244.3 886.7 L245.3 886.7 L246.3 886.7 L247.3 886.7 L248.3 886.7 L249.3 886.7 L250.3 886.7 L251.3 886.7 L252.3 886.7 L253.3 886.7 L254.3 886.7 L255.3 886.7 L256.3 886.7 L257.3 886.7 L258.3 886.7 L259.3 886.7 L260.3 886.7 L261.3 886.7 L262.3 886.7 L263.3 886.7 L264.3 886.7 L265.3 886.7 L266.3 886.7 L267.3 886.7 L268.3 886.7 L269.3 886.7 L270.3 886.7 L271.3 886.7 L272.3 886.7 L273.3 886.7 L274.3 886.7 L275.3 886.7 L276.3 886.7 L277.3 886.69 L278.3 886.68 L279.3 886.66 L280.3 886.6 L281.3 886.5 L282.3 886.35 L283.3 886.14 L284.3 885.9 L285.3 885.68 L286.3 885.53 L287.3 885.51 L288.3 885.61 L289.3 885.81 L290.3 886.04 L291.3 886.27 L292.3 886.45 L293.3 886.57 L294.3 886.64 L295.3 886.67 L296.3 886.69 L297.3 886.7 L298.3 886.7 L299.3 886.7 L300.3 886.7 L301.3 886.7 L302.3 886.7 L303.3 886.7 L304.3 886.7 L305.3 886.7 L306.3 886.7 L307.3 886.7 L308.3 886.7 L309.3 886.7 L310.3 886.7 L311.3 886.7 L312.3 886.7 L313.3 886.7 L314.3 886.7 L315.3 886.7 L316.3 886.7 L317.3 886.7 L318.3 886.7 L319.3 886.7 L320.3 886.7 L321.3 886.7 L322.3 886.7 L323.3 886.7 L324.3 886.7 L325.3 886.7 L326.3 886.7 L327.3 886.7 L328.3 886.7 L329.3 886.7 L330.3 886.7 L331.3 886.7 L332.3 886.7 L333.3 886.7 L334.3 886.7 L335.3 886.7 L336.3 886.7 L337.3 886.7 L338.3 886.7 L339.3 886.7 L340.3 886.7 L341.3 886.7 L342.3 886.7 L343.3 886.7 L344.3 886.7 L345.3 886.7 L346.3 886.7 L347.3 886.7 L348.3 886.7 L349.3 886.7 L350.3 886.7 L351.3 886.7 L352.3 886.7 L353.3 886.7 L354.3 886.7 L355.3 886.7 L356.3 886.7 L357.3 886.7 L358.3 886.7 L359.3 886.7 L360.3 886.7 L361.3 886.7 L362.3 886.7 L363.3 886.7 L364.3 886.7 L365.3 886.7 L366.3 886.7 L367.3 886.7 L368.3 886.7 L369.3 886.7 L370.3 886.7 L371.3 886.7 L372.3 886.7 L373.3 886.7 L374.3 886.7 L375.3 886.7 L376.3 886.7 L377.3 886.7 L378.3 886.7 L379.3 886.7 L380.3 886.7 L381.3 886.7 L382.3 886.7 L383.3 886.7 L384.3 886.7 L385.3 886.7 L386.3 886.7 L387.3 886.7 L388.3 886.7 L389.3 886.7 L390.3 886.7 L391.3 886.7 L392.3 886.7 L393.3 886.7 L394.3 886.7 L395.3 886.7 L396.3 886.7 L397.3 886.7 L398.3 886.7 L399.3 886.7 L400.3 886.7 L401.3 886.7 L402.3 886.7 L403.3 886.7 L404.3 886.7 L405.3 886.7 L406.3 886.7 L407.3 886.7 L408.3 886.7 L409.3 886.7 L410.3 886.7 L411.3 886.7 L412.3 886.7 L413.3 886.7 L414.3 886.7 L415.3 886.7 L416.3 886.7 L417.3 886.7 L418.3 886.7 L419.3 886.7 L420.3 886.7 L421.3 886.7 L422.3 886.7 L423.3 886.7 L424.3 886.7 L425.3 886.7 L426.3 886.7 L427.3 886.7 L428.3 886.7 L429.3 886.7 L430.3 886.7 L431.3 886.7 L432.3 886.7 L433.3 886.7 L434.3 886.7 L435.3 886.7 L436.3 886.7 L437.3 886.7 L438.3 886.7 L439.3 886.7 L440.3 886.7 L441.3 886.7 L442.3 886.7 L443.3 886.7 L444.3 886.7 L445.3 886.7 L446.3 886.7 L447.3 886.7 L448.3 886.7 L449.3 886.7 L450.3 886.7 L451.3 886.7 L452.3 886.7 L453.3 886.7 L454.3 886.7 L455.3 886.7 L456.3 886.7 L457.3 886.7 L458.3 886.7 L459.3 886.7 L460.3 886.7 L461.3 886.7 L462.3 886.7 L463.3 886.7 L464.3 886.7 L465.3 886.7 L466.3 886.7 L467.3 886.7 L468.3 886.7 L469.3 886.7 L470.3 886.7 L471.3 886.7 L472.3 886.7 L473.3 886.7 L474.3 886.7 L475.3 886.7 L476.3 886.7 L477.3 886.7 L478.3 886.7 L479.3 886.7 L480.3 886.7 L481.3 886.7 L482.3 886.7 L483.3 886.7 L484.3 886.7 L485.3 886.7 L486.3 886.7 L487.3 886.7 L488.3 886.7 L489.3 886.7 L490.3 886.7 L491.3 886.7 L492.3 886.7 L493.3 886.7 L494.3 886.7 L495.3 886.7 L496.3 886.7 L497.3 886.7 L498.3 886.7 L499.3 886.7 L500.3 886.7 L501.3 886.7 L502.3 886.7 L503.3 886.7 L504.3 886.7 L505.3 886.7 L506.3 886.7 L507.3 886.7 L508.3 886.7 L509.3 886.7 L510.3 886.7 L511.3 886.7 L512.3 886.7 L513.3 886.7 L514.3 886.7 L515.3 886.7 L516.3 886.7 L517.3 886.7 L518.3 886.7 L519.3 886.7 L520.3 886.7 L521.3 886.7 L522.3 886.7 L523.3 886.7 L524.3 886.7 L525.3 886.7 L526.3 886.7 L527.3 886.7 L528.3 886.7 L529.3 886.7 L530.3 886.7 L531.3 886.7 L532.3 886.7 L533.3 886.7 L534.3 886.7 L535.3 886.7 L536.3 886.7 L537.3 886.7 L538.3 886.7 L539.3 886.7 L540.3 886.7 L541.3 886.7 L542.3 886.7 L543.3 886.7 L544.3 886.7 L545.3 886.7 L546.3 886.7 L547.3 886.7 L548.3 886.7 L549.3 886.7 L550.3 886.7 L551.3 886.7 L552.3 886.7 L553.3 886.7 L554.3 886.7 L555.3 886.69 L556.3 886.68 L557.3 886.66 L558.3 886.6 L559.3 886.5 L560.3 886.35 L561.3 886.14 L562.3 885.9 L563.3 885.68 L564.3 885.53 L565.3 885.51 L566.3 885.61 L567.3 885.81 L568.3 886.04 L569.3 886.27 L570.3 886.45 L571.3 886.57 L572.3 886.64 L573.3 886.67 L574.3 886.69 L575.3 886.7 L576.3 886.7 L577.3 886.7 L578.3 886.7 L579.3 886.7 L580.3 886.7 L581.3 886.7 L582.3 886.7 L583.3 886.7 L584.3 886.7 L585.3 886.7 L586.3 886.7 L587.3 886.7 L588.3 886.7 L589.3 886.7 L590.3 886.7 L591.3 886.7 L592.3 886.7 L593.3 886.7 L594.3 886.7 L595.3 886.7 L596.3 886.7 L597.3 886.7 L598.3 886.7 L599.3 886.7 L600.3 886.7 L601.3 886.7 L602.3 886.7 L603.3 886.7 L604.3 886.7 L605.3 886.7 L606.3 886.7 L607.3 886.7 L608.3 886.7 L609.3 886.7 L610.3 886.7 L611.3 886.7 L612.3 886.7 L613.3 886.7 L614.3 886.7 L615.3 886.7 L616.3 886.7 L617.3 886.7 L618.3 886.7 L619.3 886.7 L620.3 886.7 L621.3 886.7 L622.3 886.7 L623.3 886.7 L624.3 886.7 L625.3 886.7 L626.3 886.7 L627.3 886.7 L628.3 886.7 L629.3 886.7 L630.3 886.7 L631.3 886.7 L632.3 886.7 L633.3 886.7 L634.3 886.7 L635.3 886.7 L636.3 886.7 L637.3 886.7 L638.3 886.7 L639.3 886.7 L640.3 886.7 L641.3 886.7 L642.3 886.7 L643.3 886.7 L644.3 886.7 L645.3 886.7 L646.3 886.7 L647.3 886.7 L648.3 886.7 L649.3 886.7 L650.3 886.7 L651 886.7" fill="none" stroke="#000" stroke-width="2.50" stroke-linejoin="round"/>
<line x1="121.25" y1="886.7" x2="138.75" y2="886.7" stroke="#000" stroke-width="2.50"/>
<line x1="279.5" y1="886.7" x2="294.5" y2="886.7" stroke="#000" stroke-width="2.50"/>
<line x1="557.5" y1="886.7" x2="572.5" y2="886.7" stroke="#000" stroke-width="2.50"/>
<line x1="180.5" y1="886.7" x2="195.5" y2="886.7" stroke="#000" stroke-width="2.50"/>
<path d="M11.3 958.88 L12.3 958.88 L13.3 958.88 L14.3 958.88 L15.3 958.88 L16.3 958.88 L17.3 958.88 L18.3 958.88 L19.3 958.88 L20.3 958.88 L21.3 958.88 L22.3 958.88 L23.3 958.88 L24.3 958.88 L25.3 958.88 L26.3 958.88 L27.3 958.88 L28.3 958.88 L29.3 958.88 L30.3 958.88 L31.3 958.88 L32.3 958.88 L33.3 958.88 L34.3 958.88 L35.3 958.88 L36.3 958.88 L37.3 958.88 L38.3 958.88 L39.3 958.88 L40.3 958.88 L41.3 958.88 L42.3 958.88 L43.3 958.88 L44.3 958.88 L45.3 958.88 L46.3 958.88 L47.3 958.88 L48.3 958.88 L49.3 958.88 L50.3 958.88 L51.3 958.88 L52.3 958.88 L53.3 958.88 L54.3 958.88 L55.3 958.88 L56.3 958.88 L57.3 958.88 L58.3 958.88 L59.3 958.88 L60.3 958.88 L61.3 958.88 L62.3 958.88 L63.3 958.88 L64.3 958.88 L65.3 958.88 L66.3 958.88 L67.3 958.88 L68.3 958.88 L69.3 958.88 L70.3 958.88 L71.3 958.88 L72.3 958.88 L73.3 958.88 L74.3 958.88 L75.3 958.88 L76.3 958.88 L77.3 958.88 L78.3 958.88 L79.3 958.88 L80.3 958.88 L81.3 958.88 L82.3 958.88 L83.3 958.88 L84.3 958.88 L85.3 958.88 L86.3 958.88 L87.3 958.88 L88.3 958.88 L89.3 958.88 L90.3 958.88 L91.3 958.88 L92.3 958.88 L93.3 958.88 L94.3 958.88 L95.3 958.88 L96.3 958.88 L97.3 958.88 L98.3 958.88 L99.3 958.88 L100.3 958.88 L101.3 958.88 L102.3 958.88 L103.3 958.88 L104.3 958.88 L105.3 958.88 L106.3 958.88 L107.3 958.88 L108.3 958.88 L109.3 958.88 L110.3 958.88 L111.3 958.88 L112.3 958.88 L113.3 958.88 L114.3 958.88 L115.3 958.88 L116.3 958.88 L117.3 958.88 L118.3 958.88 L119.3 958.88 L120.3 958.88 L121.3 958.88 L122.3 958.88 L123.3 958.88 L124.3 958.88 L125.3 958.88 L126.3 958.88 L127.3 958.88 L128.3 958.88 L129.3 958.88 L130.3 958.88 L131.3 958.88 L132.3 958.88 L133.3 958.88 L134.3 958.88 L135.3 958.88 L136.3 958.88 L137.3 958.88 L138.3 958.88 L139.3 958.88 L140.3 958.88 L141.3 958.88 L142.3 958.88 L143.3 958.88 L144.3 958.88 L145.3 958.88 L146.3 958.88 L147.3 958.88 L148.3 958.88 L149.3 958.88 L150.3 958.88 L151.3 958.88 L152.3 958.88 L153.3 958.88 L154.3 958.88 L155.3 958.88 L156.3 958.88 L157.3 958.88 L158.3 958.88 L159.3 958.88 L160.3 958.88 L161.3 958.88 L162.3 958.88 L163.3 958.88 L164.3 958.88 L165.3 958.88 L166.3 958.88 L167.3 958.88 L168.3 958.88 L169.3 958.88 L170.3 958.88 L171.3 958.88 L172.3 958.88 L173.3 958.88 L174.3 958.88 L175.3 958.88 L176.3 958.88 L177.3 958.88 L178.3 958.88 L179.3 958.88 L180.3 958.88 L181.3 958.88 L182.3 958.88 L183.3 958.88 L184.3 958.88 L185.3 958.88 L186.3 958.88 L187.3 958.88 L188.3 958.88 L189.3 958.88 L190.3 958.88 L191.3 958.88 L192.3 958.88 L193.3 958.88 L194.3 958.88 L195.3 958.88 L196.3 958.88 L197.3 958.88 L198.3 958.88 L199.3 958.88 L200.3 958.88 L201.3 958.88 L202.3 958.88 L203.3 958.88 L204.3 958.88 L205.3 958.88 L206.3 958.88 L207.3 958.88 L208.3 958.88 L209.3 958.88 L210.3 958.88 L211.3 958.88 L212.3 958.88 L213.3 958.88 L214.3 958.88 L215.3 958.88 L216.3 958.88 L217.3 958.88 L218.3 958.88 L219.3 958.88 L220.3 958.88 L221.3 958.88 L222.3 958.88 L223.3 958.88 L224.3 958.88 L225.3 958.88 L226.3 958.88 L227.3 958.88 L228.3 958.88 L229.3 958.88 L230.3 958.88 L231.3 958.88 L232.3 958.88 L233.3 958.88 L234.3 958.88 L235.3 958.88 L236.3 958.88 L237.3 958.88 L238.3 958.88 L239.3 958.88 L240.3 958.88 L241.3 958.87 L242.3 958.87 L243.3 958.85 L244.3 958.83 L245.3 958.8 L246.3 958.74 L247.3 958.66 L248.3 958.55 L249.3 958.43 L250.3 958.29 L251.3 958.16 L252.3 958.06 L253.3 957.99 L254.3 957.98 L255.3 958.03 L256.3 958.12 L257.3 958.24 L258.3 958.37 L259.3 958.51 L260.3 958.62 L261.3 958.71 L262.3 958.78 L263.3 958.82 L264.3 958.85 L265.3 958.86 L266.3 958.87 L267.3 958.88 L268.3 958.88 L269.3 958.88 L270.3 958.88 L271.3 958.88 L272.3 958.88 L273.3 958.88 L274.3 958.88 L275.3 958.88 L276.3 958.88 L277.3 958.88 L278.3 958.88 L279.3 958.88 L280.3 958.88 L281.3 958.88 L282.3 958.88 L283.3 958.88 L284.3 958.88 L285.3 958.88 L286.3 958.88 L287.3 958.88 L288.3 958.88 L289.3 958.88 L290.3 958.88 L291.3 958.88 L292.3 958.88 L293.3 958.88 L294.3 958.88 L295.3 958.88 L296.3 958.88 L297.3 958.88 L298.3 958.88 L299.3 958.88 L300.3 958.88 L301.3 958.88 L302.3 958.88 L303.3 958.88 L304.3 958.88 L305.3 958.88 L306.3 958.88 L307.3 958.88 L308.3 958.88 L309.3 958.87 L310.3 958.87 L311.3 958.85 L312.3 958.83 L313.3 958.8 L314.3 958.74 L315.3 958.66 L316.3 958.55 L317.3 958.43 L318.3 958.29 L319.3 958.16 L320.3 958.06 L321.3 957.99 L322.3 957.98 L323.3 958.03 L324.3 958.12 L325.3 958.24 L326.3 958.37 L327.3 958.51 L328.3 958.62 L329.3 958.71 L330.3 958.78 L331.3 958.82 L332.3 958.85 L333.3 958.86 L334.3 958.87 L335.3 958.88 L336.3 958.88 L337.3 958.88 L338.3 958.88 L339.3 958.88 L340.3 958.88 L341.3 958.88 L342.3 958.88 L343.3 958.88 L344.3 958.88 L345.3 958.88 L346.3 958.88 L347.3 958.88 L348.3 958.88 L349.3 958.88 L350.3 958.88 L351.3 958.88 L352.3 958.88 L353.3 958.88 L354.3 958.88 L355.3 958.88 L356.3 958.88 L357.3 958.88 L358.3 958.88 L359.3 958.88 L360.3 958.88 L361.3 958.88 L362.3 958.88 L363.3 958.88 L364.3 958.88 L365.3 958.88 L366.3 958.88 L367.3 958.88 L368.3 958.88 L369.3 958.88 L370.3 958.88 L371.3 958.88 L372.3 958.88 L373.3 958.88 L374.3 958.88 L375.3 958.88 L376.3 958.88 L377.3 958.88 L378.3 958.88 L379.3 958.88 L380.3 958.88 L381.3 958.88 L382.3 958.88 L383.3 958.88 L384.3 958.88 L385.3 958.88 L386.3 958.88 L387.3 958.88 L388.3 958.88 L389.3 958.88 L390.3 958.88 L391.3 958.88 L392.3 958.88 L393.3 958.88 L394.3 958.88 L395.3 958.88 L396.3 958.88 L397.3 958.88 L398.3 958.88 L399.3 958.88 L400.3 958.88 L401.3 958.88 L402.3 958.88 L403.3 958.88 L404.3 958.88 L405.3 958.88 L406.3 958.88 L407.3 958.88 L408.3 958.88 L409.3 958.88 L410.3 958.88 L411.3 958.88 L412.3 958.88 L413.3 958.88 L414.3 958.88 L415.3 958.88 L416.3 958.88 L417.3 958.88 L418.3 958.88 L419.3 958.88 L420.3 958.88 L421.3 958.88 L422.3 958.88 L423.3 958.88 L424.3 958.88 L425.3 958.88 L426.3 958.88 L427.3 958.88 L428.3 958.88 L429.3 958.88 L430.3 958.88 L431.3 958.88 L432.3 958.88 L433.3 958.88 L434.3 958.88 L435.3 958.88 L436.3 958.88 L437.3 958.88 L438.3 958.88 L439.3 958.88 L440.3 958.88 L441.3 958.88 L442.3 958.88 L443.3 958.88 L444.3 958.88 L445.3 958.88 L446.3 958.88 L447.3 958.88 L448.3 958.88 L449.3 958.88 L450.3 958.88 L451.3 958.88 L452.3 958.88 L453.3 958.88 L454.3 958.88 L455.3 958.88 L456.3 958.88 L457.3 958.88 L458.3 958.88 L459.3 958.88 L460.3 958.88 L461.3 958.88 L462.3 958.88 L463.3 958.88 L464.3 958.88 L465.3 958.88 L466.3 958.88 L467.3 958.88 L468.3 958.88 L469.3 958.88 L470.3 958.88 L471.3 958.88 L472.3 958.88 L473.3 958.88 L474.3 958.88 L475.3 958.88 L476.3 958.88 L477.3 958.88 L478.3 958.88 L479.3 958.88 L480.3 958.88 L481.3 958.88 L482.3 958.88 L483.3 958.88 L484.3 958.88 L485.3 958.88 L486.3 958.88 L487.3 958.88 L488.3 958.88 L489.3 958.88 L490.3 958.88 L491.3 958.88 L492.3 958.88 L493.3 958.88 L494.3 958.88 L495.3 958.88 L496.3 958.88 L497.3 958.88 L498.3 958.88 L499.3 958.88 L500.3 958.88 L501.3 958.88 L502.3 958.88 L503.3 958.88 L504.3 958.88 L505.3 958.88 L506.3 958.88 L507.3 958.88 L508.3 958.88 L509.3 958.88 L510.3 958.88 L511.3 958.88 L512.3 958.88 L513.3 958.88 L514.3 958.88 L515.3 958.88 L516.3 958.88 L517.3 958.88 L518.3 958.88 L519.3 958.88 L520.3 958.88 L521.3 958.88 L522.3 958.88 L523.3 958.88 L524.3 958.88 L525.3 958.88 L526.3 958.88 L527.3 958.88 L528.3 958.88 L529.3 958.88 L530.3 958.88 L531.3 958.88 L532.3 958.88 L533.3 958.88 L534.3 958.88 L535.3 958.88 L536.3 958.88 L537.3 958.88 L538.3 958.88 L539.3 958.88 L540.3 958.88 L541.3 958.88 L542.3 958.88 L543.3 958.88 L544.3 958.88 L545.3 958.88 L546.3 958.88 L547.3 958.88 L548.3 958.88 L549.3 958.88 L550.3 958.88 L551.3 958.88 L552.3 958.88 L553.3 958.88 L554.3 958.88 L555.3 958.88 L556.3 958.88 L557.3 958.88 L558.3 958.88 L559.3 958.88 L560.3 958.88 L561.3 958.88 L562.3 958.88 L563.3 958.88 L564.3 958.88 L565.3 958.88 L566.3 958.88 L567.3 958.88 L568.3 958.88 L569.3 958.88 L570.3 958.88 L571.3 958.88 L572.3 958.88 L573.3 958.88 L574.3 958.88 L575.3 958.88 L576.3 958.88 L577.3 958.88 L578.3 958.88 L579.3 958.88 L580.3 958.88 L581.3 958.88 L582.3 958.88 L583.3 958.88 L584.3 958.88 L585.3 958.88 L586.3 958.88 L587.3 958.88 L588.3 958.88 L589.3 958.88 L590.3 958.88 L591.3 958.88 L592.3 958.88 L593.3 958.88 L594.3 958.88 L595.3 958.88 L596.3 958.88 L597.3 958.88 L598.3 958.88 L599.3 958.88 L600.3 958.88 L601.3 958.88 L602.3 958.88 L603.3 958.88 L604.3 958.88 L605.3 958.88 L606.3 958.88 L607.3 958.88 L608.3 958.88 L609.3 958.88 L610.3 958.88 L611.3 958.88 L612.3 958.88 L613.3 958.88 L614.3 958.88 L615.3 958.88 L616.3 958.88 L617.3 958.88 L618.3 958.88 L619.3 958.88 L620.3 958.88 L621.3 958.88 L622.3 958.88 L623.3 958.88 L624.3 958.88 L625.3 958.88 L626.3 958.88 L627.3 958.88 L628.3 958.88 L629.3 958.88 L630.3 958.88 L631.3 958.88 L632.3 958.88 L633.3 958.88 L634.3 958.88 L635.3 958.88 L636.3 958.88 L637.3 958.88 L638.3 958.88 L639.3 958.88 L640.3 958.88 L641.3 958.88 L642.3 958.88 L643.3 958.88 L644.3 958.88 L645.3 958.88 L646.3 958.88 L647.3 958.88 L648.3 958.88 L649.3 958.88 L650.3 958.88 L651 958.88" fill="none" stroke="#000" stroke-width="2.50" stroke-linejoin="round"/>
<line x1="244" y1="958.88" x2="264" y2="958.88" stroke="#000" stroke-width="2.50"/>
<line x1="312" y1="958.88" x2="332" y2="958.88" stroke="#000" stroke-width="2.50"/>
<path d="M165.5 237.2C166.93 234.5 168.69 232.2 169.8 229.1C171.13 225.4 171.58 220.37 172.4 216.3C173.14 212.6 173.56 208.48 174.5 205.7C175.15 203.77 176.02 201.01 176.8 201C177.58 200.99 178.44 203.77 179.2 205.7C180.29 208.48 181.24 212.66 182.2 216.3C183.21 220.14 183.72 225 185.1 228.2C186.16 230.65 187.52 232.99 189 234.2C190.07 235.08 191.3 235.25 192.5 235.6C193.7 235.95 194.97 236.07 196.2 236.3" fill="none" stroke="#ff0080" stroke-width="2.30" stroke-linejoin="round" stroke-linecap="butt"/>
<path d="M455.2 237C457.47 236.23 460.01 235.3 462 234.7C463.53 234.24 464.74 233.49 466.1 233.6C467.51 233.72 469.09 235.1 470.3 235.5C471.16 235.79 471.82 236.26 472.6 236C473.82 235.6 475 232.94 476.4 231.7C477.77 230.49 479.48 228.54 480.9 228.6C482.24 228.65 483.47 230.55 484.7 231.7C486.01 232.93 486.97 234.9 488.5 235.8C490.01 236.69 492.03 236.67 493.8 237.1" fill="none" stroke="#ff0080" stroke-width="2.30" stroke-linejoin="round" stroke-linecap="butt"/>
<path d="M165.9 309C167 306.3 168.3 304 169.2 300.9C170.32 297.02 170.88 291.91 171.6 287.4C172.32 282.91 172.86 277.97 173.5 273.9C174.03 270.54 174.26 266.62 175.1 264.7C175.55 263.68 176.13 262.59 176.7 262.6C177.39 262.62 178.27 264.37 178.9 265.8C179.9 268.09 180.41 272.09 181.1 275.5C181.86 279.26 182.47 283.53 183.2 287.4C183.9 291.09 184.45 295.09 185.4 298.2C186.16 300.68 186.77 303.13 188.1 304.7C189.23 306.03 190.75 306.77 192.4 307.4C194.28 308.12 196.73 308.13 198.9 308.5" fill="none" stroke="#ff0080" stroke-width="2.30" stroke-linejoin="round" stroke-linecap="butt"/>
<path d="M457.2 309.5C459.17 308.7 461.59 307.57 463.1 307.1C464 306.82 464.44 306.56 465.3 306.6C466.54 306.66 468.29 307.96 469.8 308.1C471.26 308.24 473.01 308.3 474.2 307.5C475.58 306.57 476.05 303.73 477.2 302.3C478.19 301.07 479.42 299.25 480.5 299.3C481.65 299.35 482.76 301.69 483.9 303C485.13 304.41 486.03 306.45 487.6 307.5C489.21 308.58 491.53 308.7 493.5 309.3" fill="none" stroke="#ff0080" stroke-width="2.30" stroke-linejoin="round" stroke-linecap="butt"/>
<path d="M312 309.26 L312.5 309.26 L313 309.26 L313.5 309.26 L314 309.26 L314.5 309.26 L315 309.25 L315.5 309.25 L316 309.24 L316.5 309.22 L317 309.2 L317.5 309.16 L318 309.11 L318.5 309.05 L319 308.96 L319.5 308.84 L320 308.71 L320.5 308.55 L321 308.38 L321.5 308.19 L322 308.01 L322.5 307.85 L323 307.71 L323.5 307.61 L324 307.56 L324.5 307.57 L325 307.63 L325.5 307.73 L326 307.88 L326.5 308.05 L327 308.23 L327.5 308.41 L328 308.58 L328.5 308.74 L329 308.87 L329.5 308.98 L330 309.06 L330.5 309.12 L331 309.17 L331.5 309.2 L332 309.22 L332.5 309.24 L333 309.25 L333.5 309.25 L334 309.26 L334.5 309.26 L335 309.26 L335.5 309.26 L336 309.26" fill="none" stroke="#000" stroke-width="2.50" stroke-linejoin="round"/>
<path d="M523.3 525.7C524.7 525.3 526.38 525.52 527.5 524.5C529.04 523.1 529.62 519.48 530.5 516.8C531.43 513.96 532.09 510.28 532.9 507.9C533.46 506.25 533.96 504.63 534.6 503.8C534.97 503.32 535.36 502.87 535.8 502.9C536.42 502.94 537.28 503.98 537.9 504.9C538.77 506.2 539.31 508.33 540 510.3C540.81 512.63 541.43 515.71 542.4 518C543.24 519.98 544.14 522.09 545.3 523.3C546.19 524.22 547.03 524.68 548.3 525.1C550.11 525.7 553.03 525.57 555.4 525.8" fill="none" stroke="#ff0080" stroke-width="2.30" stroke-linejoin="round" stroke-linecap="butt"/>
<path d="M525.7 670.3C526.5 668.9 527.46 667.85 528.1 666.1C529.01 663.63 529.31 659.82 529.9 656.6C530.51 653.29 531.03 649.42 531.7 646.5C532.22 644.23 532.62 641.68 533.4 640.5C533.83 639.85 534.3 639.38 534.9 639.3C535.65 639.2 536.83 639.76 537.6 640.5C538.64 641.49 539.32 643.54 540 645.3C540.76 647.27 541.18 649.42 541.8 651.8C542.54 654.66 543.09 658.54 544.1 661.3C544.93 663.58 545.6 665.83 547.1 667.3C548.58 668.75 551.03 669.17 553 670.1" fill="none" stroke="#ff0080" stroke-width="2.30" stroke-linejoin="round" stroke-linecap="butt"/>
<path d="M166.5 813.5C167.3 811.77 168.21 810.34 168.9 808.3C169.79 805.65 170.33 801.87 171 798.8C171.63 795.91 172.16 792.94 172.8 790.4C173.34 788.25 173.65 785.82 174.5 784.5C175.07 783.61 175.9 782.7 176.6 782.7C177.3 782.7 178.11 783.64 178.7 784.5C179.53 785.73 179.91 787.85 180.5 789.8C181.21 792.14 181.85 795.07 182.6 797.6C183.32 800.03 184.03 802.61 184.9 804.7C185.63 806.46 186.19 808.11 187.3 809.4C188.4 810.67 189.99 811.73 191.5 812.4C192.96 813.04 194.63 813.07 196.2 813.4" fill="none" stroke="#ff0080" stroke-width="2.30" stroke-linejoin="round" stroke-linecap="butt"/>
<path d="M200.4 814.6C201.37 813.87 202.48 813.43 203.3 812.4C204.34 811.1 205.02 808.99 205.7 807.1C206.44 805.05 206.88 802.63 207.5 800.5C208.09 798.47 208.56 796.29 209.3 794.6C209.91 793.21 210.66 791.06 211.4 791C212.04 790.95 212.83 792.37 213.4 793.4C214.17 794.79 214.6 797.01 215.2 798.8C215.8 800.58 216.31 802.35 217 804.1C217.7 805.88 218.4 807.95 219.4 809.4C220.25 810.63 221.12 811.6 222.4 812.4C223.95 813.37 226.33 813.73 228.3 814.4" fill="none" stroke="#ff8000" stroke-width="2.30" stroke-linejoin="round" stroke-linecap="butt"/>
<path d="M465.1 813.9C466.67 813.57 468.17 812.97 469.8 812.9C471.56 812.83 473.65 813.8 475.3 813.6C476.74 813.43 477.82 812.65 479.2 812.1C480.77 811.47 482.6 809.97 484.2 810C485.69 810.03 487.09 811.39 488.5 812C489.82 812.58 491.1 813.07 492.4 813.6" fill="none" stroke="#ff0080" stroke-width="2.30" stroke-linejoin="round" stroke-linecap="butt"/>
<path d="M163.4 886.8C165.73 886.4 168.84 886.72 170.4 885.6C171.68 884.68 172.08 883.08 172.7 881.4C173.51 879.21 173.92 876.23 174.4 873.4C174.94 870.26 175.28 866.84 175.7 863.4C176.15 859.73 176.5 855.46 177 852C177.42 849.09 177.77 846.37 178.4 844C178.92 842.03 179.62 838.73 180.3 838.7C180.95 838.68 181.86 841.56 182.4 843.4C183.1 845.8 183.28 848.93 183.7 852C184.18 855.53 184.54 859.95 185.1 863.4C185.57 866.31 186.07 868.63 186.7 871.4C187.39 874.42 187.84 878.58 189.1 880.8C189.98 882.34 191.19 883.12 192.4 884.1C193.62 885.09 195.07 885.83 196.4 886.7" fill="none" stroke="#ff0080" stroke-width="2.30" stroke-linejoin="round" stroke-linecap="butt"/>
<path d="M203.1 885.6C204 884 205.07 882.73 205.8 880.8C206.76 878.25 207.13 874.52 207.8 871.4C208.46 868.29 209.06 864.53 209.8 862.1C210.3 860.46 210.61 858.85 211.4 858.1C211.97 857.57 212.76 857.3 213.5 857.4C214.44 857.53 215.71 858.4 216.5 859.4C217.49 860.65 217.88 862.77 218.5 864.7C219.23 866.95 219.82 869.7 220.5 872.1C221.15 874.39 221.54 876.85 222.5 878.8C223.36 880.56 224.41 882.33 225.8 883.4C227.11 884.41 228.83 884.83 230.5 885.2C232.28 885.59 234.3 885.47 236.2 885.6" fill="none" stroke="#ff8000" stroke-width="2.30" stroke-linejoin="round" stroke-linecap="butt"/>
<path d="M476.7 886.7 L477.2 886.6 L477.71 886.46 L478.21 886.26 L478.72 886 L479.22 885.67 L479.72 885.3 L480.23 884.9 L480.73 884.5 L481.24 884.14 L481.74 883.87 L482.24 883.7 L482.75 883.67 L483.25 883.76 L483.76 883.93 L484.26 884.19 L484.76 884.5 L485.27 884.84 L485.77 885.19 L486.28 885.52 L486.78 885.83 L487.28 886.09 L487.79 886.3 L488.29 886.48 L488.8 886.61 L489.3 886.7" fill="none" stroke="#ff0080" stroke-width="2.30" stroke-linejoin="round"/>
<path d="M199.9 959C201.1 958.47 202.64 958.34 203.5 957.4C204.46 956.35 204.63 954.56 205.1 952.7C205.75 950.13 206.22 946.48 206.7 943.3C207.19 940.05 207.54 936.5 208 933.4C208.41 930.64 208.77 927.92 209.3 925.6C209.74 923.68 209.89 921.39 210.8 920.4C211.45 919.69 212.59 919.23 213.4 919.4C214.34 919.6 215.31 920.99 216 922C216.72 923.05 217.13 924.14 217.6 925.6C218.27 927.68 218.68 930.79 219.2 933.4C219.72 936.02 220.15 938.83 220.7 941.3C221.19 943.5 221.57 945.56 222.3 947.5C222.99 949.35 223.82 951.19 224.9 952.7C225.91 954.13 227.22 955.74 228.5 956.4C229.52 956.92 230.58 956.61 231.7 956.9C233 957.24 234.43 957.9 235.8 958.4" fill="none" stroke="#ff8000" stroke-width="2.30" stroke-linejoin="round" stroke-linecap="butt"/>
<line x1="176.7" y1="190.1" x2="176.7" y2="960" stroke="#aaaaaa" stroke-width="2.20" stroke-dasharray="8.3 6.64"/>
<line x1="276.6" y1="191.2" x2="276.6" y2="960" stroke="#aaaaaa" stroke-width="2.20" stroke-dasharray="8.3 6.64"/>
<line x1="428.6" y1="192.9" x2="428.6" y2="960" stroke="#aaaaaa" stroke-width="2.20" stroke-dasharray="8.3 6.64"/>
<line x1="466.8" y1="194.2" x2="466.8" y2="815" stroke="#aaaaaa" stroke-width="2.20" stroke-dasharray="8.3 6.64"/>
<path d="M490 195.2 L485.3 209.6 Q482.5 215.5 482.2 218.6" fill="none" stroke="#aaaaaa" stroke-width="2.2" stroke-dasharray="8.3 6.6 20 0"/>
<line x1="482.2" y1="218" x2="482.2" y2="886" stroke="#aaaaaa" stroke-width="2.20" stroke-dasharray="8.3 6.64"/>
<line x1="497.1" y1="479.2" x2="497.1" y2="742" stroke="#aaaaaa" stroke-width="2.20" stroke-dasharray="8.3 6.64"/>
<line x1="536.6" y1="482.1" x2="536.6" y2="670" stroke="#aaaaaa" stroke-width="2.20" stroke-dasharray="8.3 6.64"/>
<line x1="212.35" y1="778.1" x2="212.35" y2="958.5" stroke="#a0a0a0" stroke-width="1.10" stroke-dasharray="4.5 2.96"/>
<line x1="11.4" y1="978.35" x2="651" y2="978.35" stroke="#000" stroke-width="3.3"/>
<line x1="35" y1="978.35" x2="35" y2="994.6" stroke="#000" stroke-width="3.3"/>
<text transform="translate(35 1019.5) scale(1 1.040)" font-size="24.3" text-anchor="middle" fill="#000">10</text>
<line x1="94.3" y1="978.35" x2="94.3" y2="986.7" stroke="#000" stroke-width="3.3"/>
<line x1="153.4" y1="978.35" x2="153.4" y2="994.6" stroke="#000" stroke-width="3.3"/>
<text transform="translate(153.4 1019.5) scale(1 1.040)" font-size="24.3" text-anchor="middle" fill="#000">11</text>
<line x1="212.9" y1="978.35" x2="212.9" y2="986.7" stroke="#000" stroke-width="3.3"/>
<line x1="271.4" y1="978.35" x2="271.4" y2="994.6" stroke="#000" stroke-width="3.3"/>
<text transform="translate(271.4 1019.5) scale(1 1.040)" font-size="24.3" text-anchor="middle" fill="#000">12</text>
<line x1="331.2" y1="978.35" x2="331.2" y2="986.7" stroke="#000" stroke-width="3.3"/>
<line x1="390.2" y1="978.35" x2="390.2" y2="994.6" stroke="#000" stroke-width="3.3"/>
<text transform="translate(390.2 1019.5) scale(1 1.040)" font-size="24.3" text-anchor="middle" fill="#000">13</text>
<line x1="449.3" y1="978.35" x2="449.3" y2="986.7" stroke="#000" stroke-width="3.3"/>
<line x1="509.2" y1="978.35" x2="509.2" y2="994.6" stroke="#000" stroke-width="3.3"/>
<text transform="translate(509.2 1019.5) scale(1 1.040)" font-size="24.3" text-anchor="middle" fill="#000">14</text>
<line x1="568.15" y1="978.35" x2="568.15" y2="986.7" stroke="#000" stroke-width="3.3"/>
<line x1="627.5" y1="978.35" x2="627.5" y2="994.6" stroke="#000" stroke-width="3.3"/>
<text transform="translate(627.5 1019.5) scale(1 1.040)" font-size="24.3" text-anchor="middle" fill="#000">15</text>
<text transform="translate(338 1049.6) scale(1 1.040)" font-size="30.1" text-anchor="middle" fill="#000">Retention time (min)</text>
<text transform="translate(620.1 227.88) scale(1 1.040)" font-size="29.9" fill="#000">NgnO1-NgnO2 + <tspan font-weight="bold">6</tspan>/<tspan font-weight="bold">7</tspan> + NADH + FMN</text>
<text transform="translate(620.1 300.06) scale(1 1.040)" font-size="29.9" fill="#000">NtfO1-NtfO2+<tspan font-weight="bold">6</tspan>/<tspan font-weight="bold">7</tspan> + NADH + FMN</text>
<text transform="translate(620.1 372.24) scale(1 1.040)" font-size="29.9" fill="#000">NgnO1 + <tspan font-weight="bold">6</tspan>/<tspan font-weight="bold">7</tspan> + NADH + FMN</text>
<text transform="translate(620.1 444.42) scale(1 1.040)" font-size="29.9" fill="#000">NgnO2 + <tspan font-weight="bold">6</tspan>/<tspan font-weight="bold">7</tspan> + NADH + FMN</text>
<text transform="translate(620.1 516.6) scale(1 1.040)" font-size="29.9" fill="#000">NgnO1-NgnO2 + <tspan font-weight="bold">5</tspan> + NADH + FMN</text>
<text transform="translate(620.1 588.78) scale(1 1.040)" font-size="29.9" fill="#000">Boiled NgnO1-NgnO2 + <tspan font-weight="bold">5</tspan> + NADH + FMN</text>
<text transform="translate(620.1 660.96) scale(1 1.040)" font-size="29.9" fill="#000">NtfO1-NtfO2 + <tspan font-weight="bold">5</tspan> + NADH + FMN</text>
<text transform="translate(620.1 733.14) scale(1 1.040)" font-size="29.9" fill="#000">Boiled NtfO1-NtfO2 + <tspan font-weight="bold">5</tspan> + NADH + FMN</text>
<text transform="translate(620.1 805.32) scale(1 1.040)" font-size="29.9" fill="#000">NgnO1-NgnO2 + <tspan font-weight="bold">6</tspan>/<tspan font-weight="bold">7</tspan> + StmK + NADH +NADPH + FMN</text>
<text transform="translate(620.1 877.5) scale(1 1.040)" font-size="29.9" fill="#000">StmK + <tspan font-weight="bold">11</tspan> + NADP<tspan font-size="20" dy="-9.2">+</tspan></text>
<text transform="translate(620.1 949.68) scale(1 1.040)" font-size="29.9" fill="#000">Boiled StmK + <tspan font-weight="bold">11</tspan> + NADP<tspan font-size="20" dy="-9.2">+</tspan></text>
</svg></body></html>
